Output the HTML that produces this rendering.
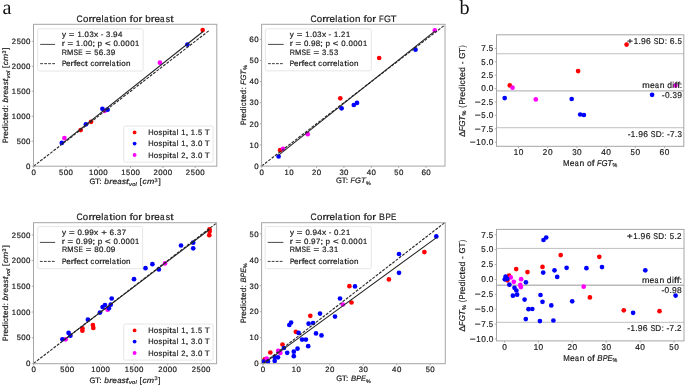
<!DOCTYPE html>
<html><head><meta charset="utf-8"><style>
html,body{margin:0;padding:0;background:#fff;width:685px;height:385px;overflow:hidden}
svg{display:block;will-change:transform}
text{font-family:"Liberation Sans",sans-serif;text-rendering:geometricPrecision}
.serif{font-family:"Liberation Serif",serif}

</style></head><body>
<svg width="685" height="385" viewBox="0 0 685 385">
<rect width="685" height="385" fill="#fff"/>
<text x="2.4" y="14.2" font-size="20.2" class="serif" fill="#111">a</text>
<text x="459.4" y="14.2" font-size="20.2" class="serif" fill="#111">b</text>
<circle cx="80.7" cy="130.1" r="2.35" fill="#ff0000"/>
<circle cx="91.1" cy="121.8" r="2.35" fill="#ff0000"/>
<circle cx="202.7" cy="30.1" r="2.35" fill="#ff0000"/>
<circle cx="64.4" cy="138.1" r="2.35" fill="#ff00ff"/>
<circle cx="104.7" cy="110.8" r="2.35" fill="#ff00ff"/>
<circle cx="159.9" cy="62.7" r="2.35" fill="#ff00ff"/>
<circle cx="61.8" cy="142.9" r="2.35" fill="#0000ff"/>
<circle cx="85.9" cy="124.3" r="2.35" fill="#0000ff"/>
<circle cx="102.4" cy="108.8" r="2.35" fill="#0000ff"/>
<circle cx="107.6" cy="109.7" r="2.35" fill="#0000ff"/>
<circle cx="187.4" cy="44.6" r="2.35" fill="#0000ff"/>
<line x1="33.6" y1="166.2" x2="209.74" y2="30.06" stroke="#2a2a2a" stroke-width="1.15" stroke-dasharray="2.9,1.3"/>
<line x1="61.78" y1="143.96" x2="203.09" y2="31.47" stroke="#222" stroke-width="1.05"/>
<rect x="33.5" y="24.3" width="183.3" height="141.9" rx="0" fill="none" stroke="#a6a6a6" stroke-width="1"/>
<line x1="33.6" y1="166.2" x2="33.6" y2="168" stroke="#a6a6a6" stroke-width="0.9"/>
<g font-size="7.8" fill="#1c1c1c" stroke="#1c1c1c" stroke-width="0.2"><text transform="matrix(1.014 0 0 1 31.4 174.6)">0</text></g>
<line x1="65.92" y1="166.2" x2="65.92" y2="168" stroke="#a6a6a6" stroke-width="0.9"/>
<g font-size="7.8" fill="#1c1c1c" stroke="#1c1c1c" stroke-width="0.2"><text transform="matrix(0.957 0 0 1 59.04 174.6)">5</text><text transform="matrix(1.014 0 0 1 63.72 174.6)">0</text><text transform="matrix(1.014 0 0 1 68.49 174.6)">0</text></g>
<line x1="98.24" y1="166.2" x2="98.24" y2="168" stroke="#a6a6a6" stroke-width="0.9"/>
<g font-size="7.8" fill="#1c1c1c" stroke="#1c1c1c" stroke-width="0.2"><text transform="matrix(0.968 0 0 1 88.95 174.6)">1</text><text transform="matrix(1.014 0 0 1 93.65 174.6)">0</text><text transform="matrix(1.014 0 0 1 98.43 174.6)">0</text><text transform="matrix(1.014 0 0 1 103.2 174.6)">0</text></g>
<line x1="130.56" y1="166.2" x2="130.56" y2="168" stroke="#a6a6a6" stroke-width="0.9"/>
<g font-size="7.8" fill="#1c1c1c" stroke="#1c1c1c" stroke-width="0.2"><text transform="matrix(0.968 0 0 1 121.27 174.6)">1</text><text transform="matrix(0.957 0 0 1 126.07 174.6)">5</text><text transform="matrix(1.014 0 0 1 130.75 174.6)">0</text><text transform="matrix(1.014 0 0 1 135.52 174.6)">0</text></g>
<line x1="162.88" y1="166.2" x2="162.88" y2="168" stroke="#a6a6a6" stroke-width="0.9"/>
<g font-size="7.8" fill="#1c1c1c" stroke="#1c1c1c" stroke-width="0.2"><text transform="matrix(0.977 0 0 1 153.5 174.6)">2</text><text transform="matrix(1.014 0 0 1 158.29 174.6)">0</text><text transform="matrix(1.014 0 0 1 163.07 174.6)">0</text><text transform="matrix(1.014 0 0 1 167.84 174.6)">0</text></g>
<line x1="195.2" y1="166.2" x2="195.2" y2="168" stroke="#a6a6a6" stroke-width="0.9"/>
<g font-size="7.8" fill="#1c1c1c" stroke="#1c1c1c" stroke-width="0.2"><text transform="matrix(0.977 0 0 1 185.82 174.6)">2</text><text transform="matrix(0.957 0 0 1 190.71 174.6)">5</text><text transform="matrix(1.014 0 0 1 195.39 174.6)">0</text><text transform="matrix(1.014 0 0 1 200.16 174.6)">0</text></g>
<line x1="31.7" y1="166.2" x2="33.5" y2="166.2" stroke="#a6a6a6" stroke-width="0.9"/>
<g font-size="7.8" fill="#1c1c1c" stroke="#1c1c1c" stroke-width="0.2"><text transform="matrix(1.014 0 0 1 26.11 169.33)">0</text></g>
<line x1="31.7" y1="141.22" x2="33.5" y2="141.22" stroke="#a6a6a6" stroke-width="0.9"/>
<g font-size="7.8" fill="#1c1c1c" stroke="#1c1c1c" stroke-width="0.2"><text transform="matrix(0.957 0 0 1 16.66 144.35)">5</text><text transform="matrix(1.014 0 0 1 21.34 144.35)">0</text><text transform="matrix(1.014 0 0 1 26.11 144.35)">0</text></g>
<line x1="31.7" y1="116.24" x2="33.5" y2="116.24" stroke="#a6a6a6" stroke-width="0.9"/>
<g font-size="7.8" fill="#1c1c1c" stroke="#1c1c1c" stroke-width="0.2"><text transform="matrix(0.968 0 0 1 11.86 119.37)">1</text><text transform="matrix(1.014 0 0 1 16.57 119.37)">0</text><text transform="matrix(1.014 0 0 1 21.34 119.37)">0</text><text transform="matrix(1.014 0 0 1 26.11 119.37)">0</text></g>
<line x1="31.7" y1="91.26" x2="33.5" y2="91.26" stroke="#a6a6a6" stroke-width="0.9"/>
<g font-size="7.8" fill="#1c1c1c" stroke="#1c1c1c" stroke-width="0.2"><text transform="matrix(0.968 0 0 1 11.86 94.39)">1</text><text transform="matrix(0.957 0 0 1 16.66 94.39)">5</text><text transform="matrix(1.014 0 0 1 21.34 94.39)">0</text><text transform="matrix(1.014 0 0 1 26.11 94.39)">0</text></g>
<line x1="31.7" y1="66.28" x2="33.5" y2="66.28" stroke="#a6a6a6" stroke-width="0.9"/>
<g font-size="7.8" fill="#1c1c1c" stroke="#1c1c1c" stroke-width="0.2"><text transform="matrix(0.977 0 0 1 11.78 69.41)">2</text><text transform="matrix(1.014 0 0 1 16.57 69.41)">0</text><text transform="matrix(1.014 0 0 1 21.34 69.41)">0</text><text transform="matrix(1.014 0 0 1 26.11 69.41)">0</text></g>
<line x1="31.7" y1="41.3" x2="33.5" y2="41.3" stroke="#a6a6a6" stroke-width="0.9"/>
<g font-size="7.8" fill="#1c1c1c" stroke="#1c1c1c" stroke-width="0.2"><text transform="matrix(0.977 0 0 1 11.78 44.43)">2</text><text transform="matrix(0.957 0 0 1 16.66 44.43)">5</text><text transform="matrix(1.014 0 0 1 21.34 44.43)">0</text><text transform="matrix(1.014 0 0 1 26.11 44.43)">0</text></g>
<g font-size="9.46" fill="#1c1c1c" stroke="#1c1c1c" stroke-width="0.2"><text transform="matrix(0.893 0 0 1 76.59 21.7)">C</text><text transform="matrix(1.022 0 0 1 82.96 21.7)">o</text><text transform="matrix(1.232 0 0 1 88.48 21.7)">r</text><text transform="matrix(1.232 0 0 1 92.07 21.7)">r</text><text transform="matrix(1.039 0 0 1 95.64 21.7)">e</text><text transform="matrix(0.983 0 0 1 101.38 21.7)">l</text><text transform="matrix(0.865 0 0 1 103.88 21.7)">a</text><text transform="matrix(1.285 0 0 1 109.32 21.7)">t</text><text transform="matrix(0.983 0 0 1 113.06 21.7)">i</text><text transform="matrix(1.022 0 0 1 115.45 21.7)">o</text><text transform="matrix(1.037 0 0 1 121.1 21.7)">n</text><text transform="matrix(1.263 0 0 1 129.62 21.7)">f</text><text transform="matrix(1.022 0 0 1 132.88 21.7)">o</text><text transform="matrix(1.232 0 0 1 138.41 21.7)">r</text><text transform="matrix(1.046 0 0 1 145.18 21.7)">b</text><text transform="matrix(1.232 0 0 1 150.82 21.7)">r</text><text transform="matrix(1.039 0 0 1 154.39 21.7)">e</text><text transform="matrix(0.865 0 0 1 160.1 21.7)">a</text><text transform="matrix(0.922 0 0 1 165.73 21.7)">s</text><text transform="matrix(1.285 0 0 1 170.28 21.7)">t</text></g>
<rect x="37.7" y="28.8" width="105.4" height="42.2" rx="1.5" fill="#ffffff" stroke="#e0e0e0" stroke-width="0.8"/>
<g font-size="7.8" fill="#1c1c1c" stroke="#1c1c1c" stroke-width="0.2"><text transform="matrix(1.033 0 0 1 61.9 37.4)">y</text><text transform="matrix(1.239 0 0 1 68.85 37.4)">=</text><text transform="matrix(0.968 0 0 1 77.44 37.4)">1</text><text transform="matrix(1.040 0 0 1 82.02 37.4)">.</text><text transform="matrix(1.014 0 0 1 84.53 37.4)">0</text><text transform="matrix(0.973 0 0 1 89.4 37.4)">3</text><text transform="matrix(1.067 0 0 1 94.01 37.4)">x</text><text transform="matrix(1.037 0 0 1 100.72 37.4)">-</text><text transform="matrix(0.973 0 0 1 106.08 37.4)">3</text><text transform="matrix(1.040 0 0 1 110.64 37.4)">.</text><text transform="matrix(1.047 0 0 1 113.05 37.4)">9</text><text transform="matrix(1.014 0 0 1 117.92 37.4)">4</text></g>
<g font-size="7.8" fill="#1c1c1c" stroke="#1c1c1c" stroke-width="0.2"><text transform="matrix(1.232 0 0 1 61.74 46)">r</text><text transform="matrix(1.239 0 0 1 67.49 46)">=</text><text transform="matrix(0.968 0 0 1 76.08 46)">1</text><text transform="matrix(1.040 0 0 1 80.67 46)">.</text><text transform="matrix(1.014 0 0 1 83.18 46)">0</text><text transform="matrix(1.014 0 0 1 87.95 46)">0</text><text transform="matrix(1.350 0 0 1 92.19 46)">;</text><text transform="matrix(1.046 0 0 1 97.6 46)">p</text><text transform="matrix(1.239 0 0 1 104.91 46)">&lt;</text><text transform="matrix(1.014 0 0 1 113.44 46)">0</text><text transform="matrix(1.040 0 0 1 118.09 46)">.</text><text transform="matrix(1.014 0 0 1 120.6 46)">0</text><text transform="matrix(1.014 0 0 1 125.37 46)">0</text><text transform="matrix(1.014 0 0 1 130.14 46)">0</text><text transform="matrix(0.968 0 0 1 134.98 46)">1</text></g>
<g font-size="7.8" fill="#1c1c1c" stroke="#1c1c1c" stroke-width="0.2"><text transform="matrix(0.920 0 0 1 61.85 54.6)">R</text><text transform="matrix(0.959 0 0 1 67.03 54.6)">M</text><text transform="matrix(0.857 0 0 1 73.57 54.6)">S</text><text transform="matrix(0.833 0 0 1 78.35 54.6)">E</text><text transform="matrix(1.239 0 0 1 85.59 54.6)">=</text><text transform="matrix(0.957 0 0 1 94.21 54.6)">5</text><text transform="matrix(1.049 0 0 1 98.81 54.6)">6</text><text transform="matrix(1.040 0 0 1 103.54 54.6)">.</text><text transform="matrix(0.973 0 0 1 106.14 54.6)">3</text><text transform="matrix(1.047 0 0 1 110.72 54.6)">9</text></g>
<line x1="40.2" y1="44.4" x2="55.1" y2="44.4" stroke="#333" stroke-width="0.9"/>
<g font-size="7.8" fill="#1c1c1c" stroke="#1c1c1c" stroke-width="0.2"><text transform="matrix(0.850 0 0 1 61.89 66.4)">P</text><text transform="matrix(1.039 0 0 1 66.03 66.4)">e</text><text transform="matrix(1.232 0 0 1 70.61 66.4)">r</text><text transform="matrix(1.263 0 0 1 73.69 66.4)">f</text><text transform="matrix(1.039 0 0 1 76.36 66.4)">e</text><text transform="matrix(0.965 0 0 1 81 66.4)">c</text><text transform="matrix(1.285 0 0 1 85.08 66.4)">t</text><text transform="matrix(0.965 0 0 1 90.45 66.4)">c</text><text transform="matrix(1.022 0 0 1 94.56 66.4)">o</text><text transform="matrix(1.232 0 0 1 99.11 66.4)">r</text><text transform="matrix(1.232 0 0 1 102.06 66.4)">r</text><text transform="matrix(1.039 0 0 1 105.01 66.4)">e</text><text transform="matrix(0.983 0 0 1 109.74 66.4)">l</text><text transform="matrix(0.865 0 0 1 111.8 66.4)">a</text><text transform="matrix(1.285 0 0 1 116.28 66.4)">t</text><text transform="matrix(0.983 0 0 1 119.37 66.4)">i</text><text transform="matrix(1.022 0 0 1 121.34 66.4)">o</text><text transform="matrix(1.037 0 0 1 125.99 66.4)">n</text></g>
<line x1="40.2" y1="63.65" x2="55.1" y2="63.65" stroke="#333" stroke-width="0.95" stroke-dasharray="2.8,1.2"/>
<rect x="123.7" y="126" width="89.4" height="36.1" rx="1.5" fill="#ffffff" stroke="#e0e0e0" stroke-width="0.8"/>
<circle cx="134.6" cy="132.4" r="1.9" fill="#ff0000"/>
<g font-size="7.8" fill="#1c1c1c" stroke="#1c1c1c" stroke-width="0.2"><text transform="matrix(0.956 0 0 1 148.22 135.1)">H</text><text transform="matrix(1.022 0 0 1 153.82 135.1)">o</text><text transform="matrix(0.922 0 0 1 158.53 135.1)">s</text><text transform="matrix(1.046 0 0 1 162.39 135.1)">p</text><text transform="matrix(0.983 0 0 1 167.19 135.1)">i</text><text transform="matrix(1.285 0 0 1 169.13 135.1)">t</text><text transform="matrix(0.865 0 0 1 172.18 135.1)">a</text><text transform="matrix(0.983 0 0 1 176.81 135.1)">l</text><text transform="matrix(0.968 0 0 1 181.33 135.1)">1</text><text transform="matrix(1.350 0 0 1 185.51 135.1)">,</text><text transform="matrix(0.968 0 0 1 190.87 135.1)">1</text><text transform="matrix(1.040 0 0 1 195.46 135.1)">.</text><text transform="matrix(0.957 0 0 1 198.06 135.1)">5</text><text transform="matrix(1.049 0 0 1 204.73 135.1)">T</text></g>
<circle cx="134.6" cy="143.6" r="1.9" fill="#0000ff"/>
<g font-size="7.8" fill="#1c1c1c" stroke="#1c1c1c" stroke-width="0.2"><text transform="matrix(0.956 0 0 1 148.22 146.3)">H</text><text transform="matrix(1.022 0 0 1 153.82 146.3)">o</text><text transform="matrix(0.922 0 0 1 158.53 146.3)">s</text><text transform="matrix(1.046 0 0 1 162.39 146.3)">p</text><text transform="matrix(0.983 0 0 1 167.19 146.3)">i</text><text transform="matrix(1.285 0 0 1 169.13 146.3)">t</text><text transform="matrix(0.865 0 0 1 172.18 146.3)">a</text><text transform="matrix(0.983 0 0 1 176.81 146.3)">l</text><text transform="matrix(0.968 0 0 1 181.33 146.3)">1</text><text transform="matrix(1.350 0 0 1 185.51 146.3)">,</text><text transform="matrix(0.973 0 0 1 190.91 146.3)">3</text><text transform="matrix(1.040 0 0 1 195.46 146.3)">.</text><text transform="matrix(1.014 0 0 1 197.97 146.3)">0</text><text transform="matrix(1.049 0 0 1 204.73 146.3)">T</text></g>
<circle cx="134.6" cy="155" r="1.9" fill="#ff00ff"/>
<g font-size="7.8" fill="#1c1c1c" stroke="#1c1c1c" stroke-width="0.2"><text transform="matrix(0.956 0 0 1 148.22 157.7)">H</text><text transform="matrix(1.022 0 0 1 153.82 157.7)">o</text><text transform="matrix(0.922 0 0 1 158.53 157.7)">s</text><text transform="matrix(1.046 0 0 1 162.39 157.7)">p</text><text transform="matrix(0.983 0 0 1 167.19 157.7)">i</text><text transform="matrix(1.285 0 0 1 169.13 157.7)">t</text><text transform="matrix(0.865 0 0 1 172.18 157.7)">a</text><text transform="matrix(0.983 0 0 1 176.81 157.7)">l</text><text transform="matrix(0.977 0 0 1 181.25 157.7)">2</text><text transform="matrix(1.350 0 0 1 185.51 157.7)">,</text><text transform="matrix(0.973 0 0 1 190.91 157.7)">3</text><text transform="matrix(1.040 0 0 1 195.46 157.7)">.</text><text transform="matrix(1.014 0 0 1 197.97 157.7)">0</text><text transform="matrix(1.049 0 0 1 204.73 157.7)">T</text></g>
<g><g font-size="7.8" fill="#1c1c1c" stroke="#1c1c1c" stroke-width="0.2"><text transform="matrix(0.971 0 0 1 89.55 184.4)">G</text><text transform="matrix(1.085 0 0 1 95.02 184.4)">T</text><text transform="matrix(1.077 0 0 1 99.27 184.4)">:</text></g><g font-size="7.8" font-style="italic" fill="#1c1c1c" stroke="#1c1c1c" stroke-width="0.2"><text transform="matrix(1.072 0 0 1 104.37 184.4)">b</text><text transform="matrix(1.216 0 0 1 109.25 184.4)">r</text><text transform="matrix(1.076 0 0 1 112.4 184.4)">e</text><text transform="matrix(1.008 0 0 1 117.24 184.4)">a</text><text transform="matrix(1.020 0 0 1 121.92 184.4)">s</text><text transform="matrix(1.337 0 0 1 125.92 184.4)">t</text></g><g font-size="5.46" font-style="italic" fill="#1c1c1c" stroke="#1c1c1c" stroke-width="0.2"><text transform="matrix(1.074 0 0 1 129.01 185.9)">v</text><text transform="matrix(1.053 0 0 1 132.22 185.9)">o</text><text transform="matrix(1.036 0 0 1 135.58 185.9)">l</text></g><g font-size="7.8" fill="#1c1c1c" stroke="#1c1c1c" stroke-width="0.2"><text transform="matrix(1.037 0 0 1 139.55 184.4)">[</text></g><g font-size="7.8" font-style="italic" fill="#1c1c1c" stroke="#1c1c1c" stroke-width="0.2"><text transform="matrix(1.070 0 0 1 142.57 184.4)">c</text><text transform="matrix(1.125 0 0 1 146.89 184.4)">m</text></g><g font-size="5.46" fill="#1c1c1c" stroke="#1c1c1c" stroke-width="0.2"><text transform="matrix(1.007 0 0 1 154.52 181.93)">3</text></g><g font-size="7.8" fill="#1c1c1c" stroke="#1c1c1c" stroke-width="0.2"><text transform="matrix(1.037 0 0 1 158.47 184.4)">]</text></g></g>
<g transform="rotate(-90 8 95.25)"><g font-size="7.8" fill="#1c1c1c" stroke="#1c1c1c" stroke-width="0.2"><text transform="matrix(0.859 0 0 1 -39.68 95.25)">P</text><text transform="matrix(1.244 0 0 1 -35.4 95.25)">r</text><text transform="matrix(1.049 0 0 1 -32.42 95.25)">e</text><text transform="matrix(1.056 0 0 1 -27.76 95.25)">d</text><text transform="matrix(0.993 0 0 1 -22.83 95.25)">i</text><text transform="matrix(0.974 0 0 1 -20.83 95.25)">c</text><text transform="matrix(1.298 0 0 1 -16.71 95.25)">t</text><text transform="matrix(1.049 0 0 1 -13.71 95.25)">e</text><text transform="matrix(1.056 0 0 1 -9.05 95.25)">d</text><text transform="matrix(1.051 0 0 1 -4.18 95.25)">:</text></g><g font-size="7.8" font-style="italic" fill="#1c1c1c" stroke="#1c1c1c" stroke-width="0.2"><text transform="matrix(1.046 0 0 1 0.8 95.25)">b</text><text transform="matrix(1.187 0 0 1 5.56 95.25)">r</text><text transform="matrix(1.050 0 0 1 8.64 95.25)">e</text><text transform="matrix(0.983 0 0 1 13.36 95.25)">a</text><text x="17.93" y="95.25">s</text><text transform="matrix(1.305 0 0 1 21.84 95.25)">t</text></g><g font-size="5.46" font-style="italic" fill="#1c1c1c" stroke="#1c1c1c" stroke-width="0.2"><text transform="matrix(1.048 0 0 1 24.85 96.75)">v</text><text transform="matrix(1.027 0 0 1 27.98 96.75)">o</text><text transform="matrix(1.011 0 0 1 31.26 96.75)">l</text></g><g font-size="7.8" fill="#1c1c1c" stroke="#1c1c1c" stroke-width="0.2"><text transform="matrix(1.012 0 0 1 35.14 95.25)">[</text></g><g font-size="7.8" font-style="italic" fill="#1c1c1c" stroke="#1c1c1c" stroke-width="0.2"><text transform="matrix(1.044 0 0 1 38.08 95.25)">c</text><text transform="matrix(1.098 0 0 1 42.29 95.25)">m</text></g><g font-size="5.46" fill="#1c1c1c" stroke="#1c1c1c" stroke-width="0.2"><text transform="matrix(0.983 0 0 1 49.75 92.78)">3</text></g><g font-size="7.8" fill="#1c1c1c" stroke="#1c1c1c" stroke-width="0.2"><text transform="matrix(1.012 0 0 1 53.6 95.25)">]</text></g></g>
<circle cx="280.1" cy="150.2" r="2.35" fill="#ff0000"/>
<circle cx="340.3" cy="98.3" r="2.35" fill="#ff0000"/>
<circle cx="379.2" cy="58" r="2.35" fill="#ff0000"/>
<circle cx="283" cy="148.8" r="2.35" fill="#ff00ff"/>
<circle cx="307.7" cy="134.2" r="2.35" fill="#ff00ff"/>
<circle cx="434.8" cy="30.4" r="2.35" fill="#ff00ff"/>
<circle cx="278.6" cy="156.5" r="2.35" fill="#0000ff"/>
<circle cx="341.6" cy="108.3" r="2.35" fill="#0000ff"/>
<circle cx="353.8" cy="105" r="2.35" fill="#0000ff"/>
<circle cx="357" cy="102.9" r="2.35" fill="#0000ff"/>
<circle cx="415.5" cy="49.7" r="2.35" fill="#0000ff"/>
<line x1="261.7" y1="166" x2="443.91" y2="25.69" stroke="#2a2a2a" stroke-width="1.15" stroke-dasharray="2.9,1.3"/>
<line x1="278.61" y1="155.14" x2="434.87" y2="31.2" stroke="#222" stroke-width="1.05"/>
<rect x="261.6" y="24.3" width="183.4" height="141.8" rx="0" fill="none" stroke="#a6a6a6" stroke-width="1"/>
<line x1="261.7" y1="166.1" x2="261.7" y2="167.9" stroke="#a6a6a6" stroke-width="0.9"/>
<g font-size="7.8" fill="#1c1c1c" stroke="#1c1c1c" stroke-width="0.2"><text transform="matrix(1.014 0 0 1 259.5 174.6)">0</text></g>
<line x1="289.1" y1="166.1" x2="289.1" y2="167.9" stroke="#a6a6a6" stroke-width="0.9"/>
<g font-size="7.8" fill="#1c1c1c" stroke="#1c1c1c" stroke-width="0.2"><text transform="matrix(0.968 0 0 1 284.58 174.6)">1</text><text transform="matrix(1.014 0 0 1 289.29 174.6)">0</text></g>
<line x1="316.5" y1="166.1" x2="316.5" y2="167.9" stroke="#a6a6a6" stroke-width="0.9"/>
<g font-size="7.8" fill="#1c1c1c" stroke="#1c1c1c" stroke-width="0.2"><text transform="matrix(0.977 0 0 1 311.89 174.6)">2</text><text transform="matrix(1.014 0 0 1 316.69 174.6)">0</text></g>
<line x1="343.9" y1="166.1" x2="343.9" y2="167.9" stroke="#a6a6a6" stroke-width="0.9"/>
<g font-size="7.8" fill="#1c1c1c" stroke="#1c1c1c" stroke-width="0.2"><text transform="matrix(0.973 0 0 1 339.41 174.6)">3</text><text transform="matrix(1.014 0 0 1 344.09 174.6)">0</text></g>
<line x1="371.3" y1="166.1" x2="371.3" y2="167.9" stroke="#a6a6a6" stroke-width="0.9"/>
<g font-size="7.8" fill="#1c1c1c" stroke="#1c1c1c" stroke-width="0.2"><text transform="matrix(1.014 0 0 1 366.71 174.6)">4</text><text transform="matrix(1.014 0 0 1 371.49 174.6)">0</text></g>
<line x1="398.7" y1="166.1" x2="398.7" y2="167.9" stroke="#a6a6a6" stroke-width="0.9"/>
<g font-size="7.8" fill="#1c1c1c" stroke="#1c1c1c" stroke-width="0.2"><text transform="matrix(0.957 0 0 1 394.21 174.6)">5</text><text transform="matrix(1.014 0 0 1 398.89 174.6)">0</text></g>
<line x1="426.1" y1="166.1" x2="426.1" y2="167.9" stroke="#a6a6a6" stroke-width="0.9"/>
<g font-size="7.8" fill="#1c1c1c" stroke="#1c1c1c" stroke-width="0.2"><text transform="matrix(1.049 0 0 1 421.44 174.6)">6</text><text transform="matrix(1.014 0 0 1 426.29 174.6)">0</text></g>
<line x1="259.8" y1="166" x2="261.6" y2="166" stroke="#a6a6a6" stroke-width="0.9"/>
<g font-size="7.8" fill="#1c1c1c" stroke="#1c1c1c" stroke-width="0.2"><text transform="matrix(1.014 0 0 1 254.21 168.73)">0</text></g>
<line x1="259.8" y1="144.9" x2="261.6" y2="144.9" stroke="#a6a6a6" stroke-width="0.9"/>
<g font-size="7.8" fill="#1c1c1c" stroke="#1c1c1c" stroke-width="0.2"><text transform="matrix(0.968 0 0 1 249.51 147.63)">1</text><text transform="matrix(1.014 0 0 1 254.21 147.63)">0</text></g>
<line x1="259.8" y1="123.8" x2="261.6" y2="123.8" stroke="#a6a6a6" stroke-width="0.9"/>
<g font-size="7.8" fill="#1c1c1c" stroke="#1c1c1c" stroke-width="0.2"><text transform="matrix(0.977 0 0 1 249.42 126.53)">2</text><text transform="matrix(1.014 0 0 1 254.21 126.53)">0</text></g>
<line x1="259.8" y1="102.7" x2="261.6" y2="102.7" stroke="#a6a6a6" stroke-width="0.9"/>
<g font-size="7.8" fill="#1c1c1c" stroke="#1c1c1c" stroke-width="0.2"><text transform="matrix(0.973 0 0 1 249.54 105.43)">3</text><text transform="matrix(1.014 0 0 1 254.21 105.43)">0</text></g>
<line x1="259.8" y1="81.6" x2="261.6" y2="81.6" stroke="#a6a6a6" stroke-width="0.9"/>
<g font-size="7.8" fill="#1c1c1c" stroke="#1c1c1c" stroke-width="0.2"><text transform="matrix(1.014 0 0 1 249.44 84.33)">4</text><text transform="matrix(1.014 0 0 1 254.21 84.33)">0</text></g>
<line x1="259.8" y1="60.5" x2="261.6" y2="60.5" stroke="#a6a6a6" stroke-width="0.9"/>
<g font-size="7.8" fill="#1c1c1c" stroke="#1c1c1c" stroke-width="0.2"><text transform="matrix(0.957 0 0 1 249.54 63.23)">5</text><text transform="matrix(1.014 0 0 1 254.21 63.23)">0</text></g>
<line x1="259.8" y1="39.4" x2="261.6" y2="39.4" stroke="#a6a6a6" stroke-width="0.9"/>
<g font-size="7.8" fill="#1c1c1c" stroke="#1c1c1c" stroke-width="0.2"><text transform="matrix(1.049 0 0 1 249.36 42.13)">6</text><text transform="matrix(1.014 0 0 1 254.21 42.13)">0</text></g>
<g font-size="9.46" fill="#1c1c1c" stroke="#1c1c1c" stroke-width="0.2"><text transform="matrix(0.893 0 0 1 310.38 21.7)">C</text><text transform="matrix(1.022 0 0 1 316.75 21.7)">o</text><text transform="matrix(1.232 0 0 1 322.28 21.7)">r</text><text transform="matrix(1.232 0 0 1 325.86 21.7)">r</text><text transform="matrix(1.039 0 0 1 329.43 21.7)">e</text><text transform="matrix(0.983 0 0 1 335.18 21.7)">l</text><text transform="matrix(0.865 0 0 1 337.67 21.7)">a</text><text transform="matrix(1.285 0 0 1 343.11 21.7)">t</text><text transform="matrix(0.983 0 0 1 346.85 21.7)">i</text><text transform="matrix(1.022 0 0 1 349.24 21.7)">o</text><text transform="matrix(1.037 0 0 1 354.89 21.7)">n</text><text transform="matrix(1.263 0 0 1 363.41 21.7)">f</text><text transform="matrix(1.022 0 0 1 366.67 21.7)">o</text><text transform="matrix(1.232 0 0 1 372.2 21.7)">r</text><text transform="matrix(0.824 0 0 1 379.03 21.7)">F</text><text transform="matrix(0.938 0 0 1 384.08 21.7)">G</text><text transform="matrix(1.049 0 0 1 390.49 21.7)">T</text></g>
<rect x="265.4" y="28.8" width="105.9" height="42" rx="1.5" fill="#ffffff" stroke="#e0e0e0" stroke-width="0.8"/>
<g font-size="7.8" fill="#1c1c1c" stroke="#1c1c1c" stroke-width="0.2"><text transform="matrix(1.033 0 0 1 289.8 37.4)">y</text><text transform="matrix(1.239 0 0 1 296.75 37.4)">=</text><text transform="matrix(0.968 0 0 1 305.34 37.4)">1</text><text transform="matrix(1.040 0 0 1 309.92 37.4)">.</text><text transform="matrix(1.014 0 0 1 312.43 37.4)">0</text><text transform="matrix(0.973 0 0 1 317.3 37.4)">3</text><text transform="matrix(1.067 0 0 1 321.91 37.4)">x</text><text transform="matrix(1.037 0 0 1 328.62 37.4)">-</text><text transform="matrix(0.968 0 0 1 333.95 37.4)">1</text><text transform="matrix(1.040 0 0 1 338.54 37.4)">.</text><text transform="matrix(0.977 0 0 1 341.02 37.4)">2</text><text transform="matrix(0.968 0 0 1 345.88 37.4)">1</text></g>
<g font-size="7.8" fill="#1c1c1c" stroke="#1c1c1c" stroke-width="0.2"><text transform="matrix(1.232 0 0 1 289.64 46)">r</text><text transform="matrix(1.239 0 0 1 295.39 46)">=</text><text transform="matrix(1.014 0 0 1 303.92 46)">0</text><text transform="matrix(1.040 0 0 1 308.57 46)">.</text><text transform="matrix(1.047 0 0 1 310.98 46)">9</text><text transform="matrix(1.025 0 0 1 315.82 46)">8</text><text transform="matrix(1.350 0 0 1 320.09 46)">;</text><text transform="matrix(1.046 0 0 1 325.5 46)">p</text><text transform="matrix(1.239 0 0 1 332.81 46)">&lt;</text><text transform="matrix(1.014 0 0 1 341.34 46)">0</text><text transform="matrix(1.040 0 0 1 345.99 46)">.</text><text transform="matrix(1.014 0 0 1 348.5 46)">0</text><text transform="matrix(1.014 0 0 1 353.27 46)">0</text><text transform="matrix(1.014 0 0 1 358.04 46)">0</text><text transform="matrix(0.968 0 0 1 362.88 46)">1</text></g>
<g font-size="7.8" fill="#1c1c1c" stroke="#1c1c1c" stroke-width="0.2"><text transform="matrix(0.920 0 0 1 289.75 54.6)">R</text><text transform="matrix(0.959 0 0 1 294.93 54.6)">M</text><text transform="matrix(0.857 0 0 1 301.47 54.6)">S</text><text transform="matrix(0.833 0 0 1 306.25 54.6)">E</text><text transform="matrix(1.239 0 0 1 313.49 54.6)">=</text><text transform="matrix(0.973 0 0 1 322.12 54.6)">3</text><text transform="matrix(1.040 0 0 1 326.67 54.6)">.</text><text transform="matrix(0.957 0 0 1 329.27 54.6)">5</text><text transform="matrix(0.973 0 0 1 334.04 54.6)">3</text></g>
<line x1="268" y1="44.4" x2="283.7" y2="44.4" stroke="#333" stroke-width="0.9"/>
<g font-size="7.8" fill="#1c1c1c" stroke="#1c1c1c" stroke-width="0.2"><text transform="matrix(0.850 0 0 1 289.79 66.4)">P</text><text transform="matrix(1.039 0 0 1 293.93 66.4)">e</text><text transform="matrix(1.232 0 0 1 298.51 66.4)">r</text><text transform="matrix(1.263 0 0 1 301.59 66.4)">f</text><text transform="matrix(1.039 0 0 1 304.26 66.4)">e</text><text transform="matrix(0.965 0 0 1 308.9 66.4)">c</text><text transform="matrix(1.285 0 0 1 312.98 66.4)">t</text><text transform="matrix(0.965 0 0 1 318.35 66.4)">c</text><text transform="matrix(1.022 0 0 1 322.46 66.4)">o</text><text transform="matrix(1.232 0 0 1 327.01 66.4)">r</text><text transform="matrix(1.232 0 0 1 329.96 66.4)">r</text><text transform="matrix(1.039 0 0 1 332.91 66.4)">e</text><text transform="matrix(0.983 0 0 1 337.64 66.4)">l</text><text transform="matrix(0.865 0 0 1 339.7 66.4)">a</text><text transform="matrix(1.285 0 0 1 344.18 66.4)">t</text><text transform="matrix(0.983 0 0 1 347.27 66.4)">i</text><text transform="matrix(1.022 0 0 1 349.24 66.4)">o</text><text transform="matrix(1.037 0 0 1 353.89 66.4)">n</text></g>
<line x1="268" y1="63.65" x2="283.7" y2="63.65" stroke="#333" stroke-width="0.95" stroke-dasharray="2.8,1.2"/>
<g><g font-size="7.8" fill="#1c1c1c" stroke="#1c1c1c" stroke-width="0.2"><text transform="matrix(0.971 0 0 1 335.96 183.4)">G</text><text transform="matrix(1.085 0 0 1 341.43 183.4)">T</text><text transform="matrix(1.077 0 0 1 345.67 183.4)">:</text></g><g font-size="7.8" font-style="italic" fill="#1c1c1c" stroke="#1c1c1c" stroke-width="0.2"><text transform="matrix(0.889 0 0 1 350.61 183.4)">F</text><text transform="matrix(0.987 0 0 1 355.04 183.4)">G</text><text transform="matrix(1.086 0 0 1 360.66 183.4)">T</text></g><g font-size="5.15" fill="#1c1c1c" stroke="#1c1c1c" stroke-width="0.2"><text transform="matrix(1.022 0 0 1 365.93 184.68)">%</text></g></g>
<g transform="rotate(-90 245.5 95.2)"><g font-size="7.8" fill="#1c1c1c" stroke="#1c1c1c" stroke-width="0.2"><text transform="matrix(0.859 0 0 1 215.63 95.2)">P</text><text transform="matrix(1.244 0 0 1 219.92 95.2)">r</text><text transform="matrix(1.049 0 0 1 222.89 95.2)">e</text><text transform="matrix(1.056 0 0 1 227.55 95.2)">d</text><text transform="matrix(0.993 0 0 1 232.49 95.2)">i</text><text transform="matrix(0.974 0 0 1 234.49 95.2)">c</text><text transform="matrix(1.298 0 0 1 238.61 95.2)">t</text><text transform="matrix(1.049 0 0 1 241.6 95.2)">e</text><text transform="matrix(1.056 0 0 1 246.26 95.2)">d</text><text transform="matrix(1.051 0 0 1 251.14 95.2)">:</text></g><g font-size="7.8" font-style="italic" fill="#1c1c1c" stroke="#1c1c1c" stroke-width="0.2"><text transform="matrix(0.868 0 0 1 255.95 95.2)">F</text><text transform="matrix(0.964 0 0 1 260.28 95.2)">G</text><text transform="matrix(1.059 0 0 1 265.77 95.2)">T</text></g><g font-size="5.15" fill="#1c1c1c" stroke="#1c1c1c" stroke-width="0.2"><text x="270.9" y="96.48">%</text></g></g>
<line x1="496.5" y1="53.76" x2="683.8" y2="53.76" stroke="#8a8a8a" stroke-width="1" stroke-dasharray="1.1,0.9"/>
<line x1="496.5" y1="127.73" x2="683.8" y2="127.73" stroke="#8a8a8a" stroke-width="1" stroke-dasharray="1.1,0.9"/>
<line x1="496.5" y1="90.85" x2="683.8" y2="90.85" stroke="#bababa" stroke-width="1.4"/>
<circle cx="509.8" cy="85.4" r="2.35" fill="#ff0000"/>
<circle cx="578.1" cy="71.1" r="2.35" fill="#ff0000"/>
<circle cx="626.6" cy="44.6" r="2.35" fill="#ff0000"/>
<circle cx="512.5" cy="87.7" r="2.35" fill="#ff00ff"/>
<circle cx="535.8" cy="99.4" r="2.35" fill="#ff00ff"/>
<circle cx="675.4" cy="85.5" r="2.35" fill="#ff00ff"/>
<circle cx="504.7" cy="98.1" r="2.35" fill="#0000ff"/>
<circle cx="571.7" cy="99" r="2.35" fill="#0000ff"/>
<circle cx="580.2" cy="114.5" r="2.35" fill="#0000ff"/>
<circle cx="583.9" cy="115" r="2.35" fill="#0000ff"/>
<circle cx="652.1" cy="94.8" r="2.35" fill="#0000ff"/>
<rect x="496.5" y="34.8" width="187.3" height="111.5" rx="0" fill="none" stroke="#a6a6a6" stroke-width="1"/>
<line x1="518.5" y1="146.3" x2="518.5" y2="148.1" stroke="#a6a6a6" stroke-width="0.9"/>
<g font-size="8.53" fill="#1c1c1c" stroke="#1c1c1c" stroke-width="0.2"><text transform="matrix(0.932 0 0 1 513.74 155.4)">1</text><text transform="matrix(0.976 0 0 1 518.7 155.4)">0</text></g>
<line x1="547.7" y1="146.3" x2="547.7" y2="148.1" stroke="#a6a6a6" stroke-width="0.9"/>
<g font-size="8.53" fill="#1c1c1c" stroke="#1c1c1c" stroke-width="0.2"><text transform="matrix(0.941 0 0 1 542.85 155.4)">2</text><text transform="matrix(0.976 0 0 1 547.9 155.4)">0</text></g>
<line x1="576.9" y1="146.3" x2="576.9" y2="148.1" stroke="#a6a6a6" stroke-width="0.9"/>
<g font-size="8.53" fill="#1c1c1c" stroke="#1c1c1c" stroke-width="0.2"><text transform="matrix(0.937 0 0 1 572.17 155.4)">3</text><text transform="matrix(0.976 0 0 1 577.1 155.4)">0</text></g>
<line x1="606.1" y1="146.3" x2="606.1" y2="148.1" stroke="#a6a6a6" stroke-width="0.9"/>
<g font-size="8.53" fill="#1c1c1c" stroke="#1c1c1c" stroke-width="0.2"><text transform="matrix(0.976 0 0 1 601.27 155.4)">4</text><text transform="matrix(0.976 0 0 1 606.3 155.4)">0</text></g>
<line x1="635.3" y1="146.3" x2="635.3" y2="148.1" stroke="#a6a6a6" stroke-width="0.9"/>
<g font-size="8.53" fill="#1c1c1c" stroke="#1c1c1c" stroke-width="0.2"><text transform="matrix(0.921 0 0 1 630.57 155.4)">5</text><text transform="matrix(0.976 0 0 1 635.5 155.4)">0</text></g>
<line x1="664.5" y1="146.3" x2="664.5" y2="148.1" stroke="#a6a6a6" stroke-width="0.9"/>
<g font-size="8.53" fill="#1c1c1c" stroke="#1c1c1c" stroke-width="0.2"><text transform="matrix(1.010 0 0 1 659.59 155.4)">6</text><text transform="matrix(0.976 0 0 1 664.7 155.4)">0</text></g>
<line x1="494.7" y1="142.2" x2="496.5" y2="142.2" stroke="#a6a6a6" stroke-width="0.9"/>
<g font-size="8.53" fill="#1c1c1c" stroke="#1c1c1c" stroke-width="0.2"><text transform="matrix(1.193 0 0 1 469.73 145.08)">−</text><text transform="matrix(0.932 0 0 1 476.27 145.08)">1</text><text transform="matrix(0.976 0 0 1 481.23 145.08)">0</text><text x="486.13" y="145.08">.</text><text transform="matrix(0.976 0 0 1 488.77 145.08)">0</text></g>
<line x1="494.7" y1="128.8" x2="496.5" y2="128.8" stroke="#a6a6a6" stroke-width="0.9"/>
<g font-size="8.53" fill="#1c1c1c" stroke="#1c1c1c" stroke-width="0.2"><text transform="matrix(1.193 0 0 1 474.75 131.68)">−</text><text transform="matrix(0.955 0 0 1 481.27 131.68)">7</text><text x="486.13" y="131.68">.</text><text transform="matrix(0.921 0 0 1 488.87 131.68)">5</text></g>
<line x1="494.7" y1="115.4" x2="496.5" y2="115.4" stroke="#a6a6a6" stroke-width="0.9"/>
<g font-size="8.53" fill="#1c1c1c" stroke="#1c1c1c" stroke-width="0.2"><text transform="matrix(1.193 0 0 1 474.75 118.28)">−</text><text transform="matrix(0.921 0 0 1 481.33 118.28)">5</text><text x="486.13" y="118.28">.</text><text transform="matrix(0.976 0 0 1 488.77 118.28)">0</text></g>
<line x1="494.7" y1="102" x2="496.5" y2="102" stroke="#a6a6a6" stroke-width="0.9"/>
<g font-size="8.53" fill="#1c1c1c" stroke="#1c1c1c" stroke-width="0.2"><text transform="matrix(1.193 0 0 1 474.75 104.88)">−</text><text transform="matrix(0.941 0 0 1 481.21 104.88)">2</text><text x="486.13" y="104.88">.</text><text transform="matrix(0.921 0 0 1 488.87 104.88)">5</text></g>
<line x1="494.7" y1="88.6" x2="496.5" y2="88.6" stroke="#a6a6a6" stroke-width="0.9"/>
<g font-size="8.53" fill="#1c1c1c" stroke="#1c1c1c" stroke-width="0.2"><text transform="matrix(0.976 0 0 1 481.23 91.48)">0</text><text x="486.13" y="91.48">.</text><text transform="matrix(0.976 0 0 1 488.77 91.48)">0</text></g>
<line x1="494.7" y1="75.2" x2="496.5" y2="75.2" stroke="#a6a6a6" stroke-width="0.9"/>
<g font-size="8.53" fill="#1c1c1c" stroke="#1c1c1c" stroke-width="0.2"><text transform="matrix(0.941 0 0 1 481.21 78.08)">2</text><text x="486.13" y="78.08">.</text><text transform="matrix(0.921 0 0 1 488.87 78.08)">5</text></g>
<line x1="494.7" y1="61.8" x2="496.5" y2="61.8" stroke="#a6a6a6" stroke-width="0.9"/>
<g font-size="8.53" fill="#1c1c1c" stroke="#1c1c1c" stroke-width="0.2"><text transform="matrix(0.921 0 0 1 481.33 64.68)">5</text><text x="486.13" y="64.68">.</text><text transform="matrix(0.976 0 0 1 488.77 64.68)">0</text></g>
<line x1="494.7" y1="48.4" x2="496.5" y2="48.4" stroke="#a6a6a6" stroke-width="0.9"/>
<g font-size="8.53" fill="#1c1c1c" stroke="#1c1c1c" stroke-width="0.2"><text transform="matrix(0.955 0 0 1 481.27 51.28)">7</text><text x="486.13" y="51.28">.</text><text transform="matrix(0.921 0 0 1 488.87 51.28)">5</text></g>
<g font-size="8.53" fill="#1c1c1c" stroke="#1c1c1c" stroke-width="0.2"><text transform="matrix(1.193 0 0 1 627.09 44.1)">+</text><text transform="matrix(0.932 0 0 1 633.63 44.1)">1</text><text x="638.46" y="44.1">.</text><text transform="matrix(1.008 0 0 1 641 44.1)">9</text><text transform="matrix(1.010 0 0 1 646.04 44.1)">6</text><text transform="matrix(0.825 0 0 1 653.67 44.1)">S</text><text transform="matrix(0.958 0 0 1 658.59 44.1)">D</text><text x="664.71" y="44.1">:</text><text transform="matrix(1.010 0 0 1 669.85 44.1)">6</text><text x="674.83" y="44.1">.</text><text transform="matrix(0.921 0 0 1 677.57 44.1)">5</text></g>
<g font-size="8.53" fill="#1c1c1c" stroke="#1c1c1c" stroke-width="0.2"><text transform="matrix(1.055 0 0 1 642.35 88.2)">m</text><text x="650" y="88.2">e</text><text transform="matrix(0.833 0 0 1 654.96 88.2)">a</text><text x="659.78" y="88.2">n</text><text transform="matrix(1.006 0 0 1 667.22 88.2)">d</text><text transform="matrix(0.947 0 0 1 672.37 88.2)">i</text><text transform="matrix(1.216 0 0 1 674.39 88.2)">f</text><text transform="matrix(1.216 0 0 1 677.17 88.2)">f</text><text x="679.78" y="88.2">:</text></g>
<g font-size="8.53" fill="#1c1c1c" stroke="#1c1c1c" stroke-width="0.2"><text x="661.87" y="98">-</text><text transform="matrix(0.976 0 0 1 664.91 98)">0</text><text x="669.8" y="98">.</text><text transform="matrix(0.937 0 0 1 672.54 98)">3</text><text transform="matrix(1.008 0 0 1 677.37 98)">9</text></g>
<g font-size="8.53" fill="#1c1c1c" stroke="#1c1c1c" stroke-width="0.2"><text x="627.67" y="136.8">-</text><text transform="matrix(0.932 0 0 1 630.78 136.8)">1</text><text x="635.6" y="136.8">.</text><text transform="matrix(1.008 0 0 1 638.15 136.8)">9</text><text transform="matrix(1.010 0 0 1 643.19 136.8)">6</text><text transform="matrix(0.825 0 0 1 650.82 136.8)">S</text><text transform="matrix(0.958 0 0 1 655.73 136.8)">D</text><text x="661.86" y="136.8">:</text><text x="666.89" y="136.8">-</text><text transform="matrix(0.955 0 0 1 669.97 136.8)">7</text><text x="674.83" y="136.8">.</text><text transform="matrix(0.937 0 0 1 677.57 136.8)">3</text></g>
<g><g font-size="8.53" fill="#1c1c1c" stroke="#1c1c1c" stroke-width="0.2"><text transform="matrix(0.923 0 0 1 562.98 165.7)">M</text><text x="569.74" y="165.7">e</text><text transform="matrix(0.833 0 0 1 574.7 165.7)">a</text><text x="579.52" y="165.7">n</text><text transform="matrix(0.984 0 0 1 586.97 165.7)">o</text><text transform="matrix(1.216 0 0 1 591.75 165.7)">f</text></g><g font-size="8.53" font-style="italic" fill="#1c1c1c" stroke="#1c1c1c" stroke-width="0.2"><text transform="matrix(0.827 0 0 1 597 165.7)">F</text><text transform="matrix(0.919 0 0 1 601.52 165.7)">G</text><text transform="matrix(1.010 0 0 1 607.24 165.7)">T</text></g><g font-size="5.63" fill="#1c1c1c" stroke="#1c1c1c" stroke-width="0.2"><text transform="matrix(0.951 0 0 1 612.6 167.04)">%</text></g></g>
<g transform="rotate(-90 464.7 90.85)"><g font-size="8.53" fill="#1c1c1c" stroke="#1c1c1c" stroke-width="0.2"><text transform="matrix(1.038 0 0 1 418.52 90.85)">Δ</text></g><g font-size="8.53" font-style="italic" fill="#1c1c1c" stroke="#1c1c1c" stroke-width="0.2"><text transform="matrix(0.844 0 0 1 424.23 90.85)">F</text><text transform="matrix(0.937 0 0 1 428.84 90.85)">G</text><text transform="matrix(1.030 0 0 1 434.67 90.85)">T</text></g><g font-size="5.63" fill="#1c1c1c" stroke="#1c1c1c" stroke-width="0.2"><text transform="matrix(0.970 0 0 1 440.14 92.19)">%</text></g><g font-size="8.53" fill="#1c1c1c" stroke="#1c1c1c" stroke-width="0.2"><text transform="matrix(0.800 0 0 1 447.92 90.85)">(</text><text transform="matrix(0.835 0 0 1 451 90.85)">P</text><text transform="matrix(1.210 0 0 1 455.56 90.85)">r</text><text transform="matrix(1.020 0 0 1 458.72 90.85)">e</text><text transform="matrix(1.026 0 0 1 463.68 90.85)">d</text><text transform="matrix(0.965 0 0 1 468.93 90.85)">i</text><text transform="matrix(0.948 0 0 1 471.06 90.85)">c</text><text transform="matrix(1.262 0 0 1 475.44 90.85)">t</text><text transform="matrix(1.020 0 0 1 478.63 90.85)">e</text><text transform="matrix(1.026 0 0 1 483.58 90.85)">d</text><text transform="matrix(1.018 0 0 1 491.19 90.85)">-</text><text transform="matrix(0.921 0 0 1 496.71 90.85)">G</text><text transform="matrix(1.030 0 0 1 502.39 90.85)">T</text><text transform="matrix(0.800 0 0 1 508.14 90.85)">)</text></g></g>
<circle cx="82.4" cy="328.3" r="2.35" fill="#ff0000"/>
<circle cx="82.4" cy="330.7" r="2.35" fill="#ff0000"/>
<circle cx="92.9" cy="325" r="2.35" fill="#ff0000"/>
<circle cx="93.3" cy="327.9" r="2.35" fill="#ff0000"/>
<circle cx="209.5" cy="229.3" r="2.35" fill="#ff0000"/>
<circle cx="209.6" cy="231.5" r="2.35" fill="#ff0000"/>
<circle cx="209.3" cy="235.2" r="2.35" fill="#ff0000"/>
<circle cx="65.7" cy="339.3" r="2.35" fill="#ff00ff"/>
<circle cx="107.6" cy="309.7" r="2.35" fill="#ff00ff"/>
<circle cx="165" cy="263.4" r="2.35" fill="#ff00ff"/>
<circle cx="62.4" cy="339.3" r="2.35" fill="#0000ff"/>
<circle cx="68.6" cy="332.9" r="2.35" fill="#0000ff"/>
<circle cx="70.4" cy="335.7" r="2.35" fill="#0000ff"/>
<circle cx="87.9" cy="319.7" r="2.35" fill="#0000ff"/>
<circle cx="100" cy="312.6" r="2.35" fill="#0000ff"/>
<circle cx="102.6" cy="307.1" r="2.35" fill="#0000ff"/>
<circle cx="105" cy="305" r="2.35" fill="#0000ff"/>
<circle cx="108.9" cy="308.3" r="2.35" fill="#0000ff"/>
<circle cx="110.7" cy="304.7" r="2.35" fill="#0000ff"/>
<circle cx="111.7" cy="298.5" r="2.35" fill="#0000ff"/>
<circle cx="134" cy="279.2" r="2.35" fill="#0000ff"/>
<circle cx="145.5" cy="268.2" r="2.35" fill="#0000ff"/>
<circle cx="152.4" cy="264.2" r="2.35" fill="#0000ff"/>
<circle cx="158.8" cy="269.4" r="2.35" fill="#0000ff"/>
<circle cx="181" cy="245.5" r="2.35" fill="#0000ff"/>
<circle cx="193.2" cy="242.7" r="2.35" fill="#0000ff"/>
<circle cx="193.2" cy="248.3" r="2.35" fill="#0000ff"/>
<line x1="33.6" y1="363.4" x2="215.84" y2="223.59" stroke="#2a2a2a" stroke-width="1.15" stroke-dasharray="2.9,1.3"/>
<line x1="62.41" y1="341.19" x2="209.47" y2="229.5" stroke="#222" stroke-width="1.05"/>
<rect x="33.5" y="222.7" width="183.1" height="141" rx="0" fill="none" stroke="#a6a6a6" stroke-width="1"/>
<line x1="33.6" y1="363.7" x2="33.6" y2="365.5" stroke="#a6a6a6" stroke-width="0.9"/>
<g font-size="7.8" fill="#1c1c1c" stroke="#1c1c1c" stroke-width="0.2"><text transform="matrix(1.014 0 0 1 31.4 372.2)">0</text></g>
<line x1="67.1" y1="363.7" x2="67.1" y2="365.5" stroke="#a6a6a6" stroke-width="0.9"/>
<g font-size="7.8" fill="#1c1c1c" stroke="#1c1c1c" stroke-width="0.2"><text transform="matrix(0.957 0 0 1 60.22 372.2)">5</text><text transform="matrix(1.014 0 0 1 64.9 372.2)">0</text><text transform="matrix(1.014 0 0 1 69.67 372.2)">0</text></g>
<line x1="100.6" y1="363.7" x2="100.6" y2="365.5" stroke="#a6a6a6" stroke-width="0.9"/>
<g font-size="7.8" fill="#1c1c1c" stroke="#1c1c1c" stroke-width="0.2"><text transform="matrix(0.968 0 0 1 91.31 372.2)">1</text><text transform="matrix(1.014 0 0 1 96.01 372.2)">0</text><text transform="matrix(1.014 0 0 1 100.79 372.2)">0</text><text transform="matrix(1.014 0 0 1 105.56 372.2)">0</text></g>
<line x1="134.1" y1="363.7" x2="134.1" y2="365.5" stroke="#a6a6a6" stroke-width="0.9"/>
<g font-size="7.8" fill="#1c1c1c" stroke="#1c1c1c" stroke-width="0.2"><text transform="matrix(0.968 0 0 1 124.81 372.2)">1</text><text transform="matrix(0.957 0 0 1 129.61 372.2)">5</text><text transform="matrix(1.014 0 0 1 134.29 372.2)">0</text><text transform="matrix(1.014 0 0 1 139.06 372.2)">0</text></g>
<line x1="167.6" y1="363.7" x2="167.6" y2="365.5" stroke="#a6a6a6" stroke-width="0.9"/>
<g font-size="7.8" fill="#1c1c1c" stroke="#1c1c1c" stroke-width="0.2"><text transform="matrix(0.977 0 0 1 158.22 372.2)">2</text><text transform="matrix(1.014 0 0 1 163.01 372.2)">0</text><text transform="matrix(1.014 0 0 1 167.79 372.2)">0</text><text transform="matrix(1.014 0 0 1 172.56 372.2)">0</text></g>
<line x1="201.1" y1="363.7" x2="201.1" y2="365.5" stroke="#a6a6a6" stroke-width="0.9"/>
<g font-size="7.8" fill="#1c1c1c" stroke="#1c1c1c" stroke-width="0.2"><text transform="matrix(0.977 0 0 1 191.72 372.2)">2</text><text transform="matrix(0.957 0 0 1 196.61 372.2)">5</text><text transform="matrix(1.014 0 0 1 201.29 372.2)">0</text><text transform="matrix(1.014 0 0 1 206.06 372.2)">0</text></g>
<line x1="31.7" y1="363.4" x2="33.5" y2="363.4" stroke="#a6a6a6" stroke-width="0.9"/>
<g font-size="7.8" fill="#1c1c1c" stroke="#1c1c1c" stroke-width="0.2"><text transform="matrix(1.014 0 0 1 26.11 366.13)">0</text></g>
<line x1="31.7" y1="337.7" x2="33.5" y2="337.7" stroke="#a6a6a6" stroke-width="0.9"/>
<g font-size="7.8" fill="#1c1c1c" stroke="#1c1c1c" stroke-width="0.2"><text transform="matrix(0.957 0 0 1 16.66 340.43)">5</text><text transform="matrix(1.014 0 0 1 21.34 340.43)">0</text><text transform="matrix(1.014 0 0 1 26.11 340.43)">0</text></g>
<line x1="31.7" y1="312" x2="33.5" y2="312" stroke="#a6a6a6" stroke-width="0.9"/>
<g font-size="7.8" fill="#1c1c1c" stroke="#1c1c1c" stroke-width="0.2"><text transform="matrix(0.968 0 0 1 11.86 314.73)">1</text><text transform="matrix(1.014 0 0 1 16.57 314.73)">0</text><text transform="matrix(1.014 0 0 1 21.34 314.73)">0</text><text transform="matrix(1.014 0 0 1 26.11 314.73)">0</text></g>
<line x1="31.7" y1="286.3" x2="33.5" y2="286.3" stroke="#a6a6a6" stroke-width="0.9"/>
<g font-size="7.8" fill="#1c1c1c" stroke="#1c1c1c" stroke-width="0.2"><text transform="matrix(0.968 0 0 1 11.86 289.03)">1</text><text transform="matrix(0.957 0 0 1 16.66 289.03)">5</text><text transform="matrix(1.014 0 0 1 21.34 289.03)">0</text><text transform="matrix(1.014 0 0 1 26.11 289.03)">0</text></g>
<line x1="31.7" y1="260.6" x2="33.5" y2="260.6" stroke="#a6a6a6" stroke-width="0.9"/>
<g font-size="7.8" fill="#1c1c1c" stroke="#1c1c1c" stroke-width="0.2"><text transform="matrix(0.977 0 0 1 11.78 263.33)">2</text><text transform="matrix(1.014 0 0 1 16.57 263.33)">0</text><text transform="matrix(1.014 0 0 1 21.34 263.33)">0</text><text transform="matrix(1.014 0 0 1 26.11 263.33)">0</text></g>
<line x1="31.7" y1="234.9" x2="33.5" y2="234.9" stroke="#a6a6a6" stroke-width="0.9"/>
<g font-size="7.8" fill="#1c1c1c" stroke="#1c1c1c" stroke-width="0.2"><text transform="matrix(0.977 0 0 1 11.78 237.63)">2</text><text transform="matrix(0.957 0 0 1 16.66 237.63)">5</text><text transform="matrix(1.014 0 0 1 21.34 237.63)">0</text><text transform="matrix(1.014 0 0 1 26.11 237.63)">0</text></g>
<g font-size="9.46" fill="#1c1c1c" stroke="#1c1c1c" stroke-width="0.2"><text transform="matrix(0.893 0 0 1 76.49 220.1)">C</text><text transform="matrix(1.022 0 0 1 82.86 220.1)">o</text><text transform="matrix(1.232 0 0 1 88.38 220.1)">r</text><text transform="matrix(1.232 0 0 1 91.97 220.1)">r</text><text transform="matrix(1.039 0 0 1 95.54 220.1)">e</text><text transform="matrix(0.983 0 0 1 101.28 220.1)">l</text><text transform="matrix(0.865 0 0 1 103.78 220.1)">a</text><text transform="matrix(1.285 0 0 1 109.22 220.1)">t</text><text transform="matrix(0.983 0 0 1 112.96 220.1)">i</text><text transform="matrix(1.022 0 0 1 115.35 220.1)">o</text><text transform="matrix(1.037 0 0 1 121 220.1)">n</text><text transform="matrix(1.263 0 0 1 129.52 220.1)">f</text><text transform="matrix(1.022 0 0 1 132.78 220.1)">o</text><text transform="matrix(1.232 0 0 1 138.31 220.1)">r</text><text transform="matrix(1.046 0 0 1 145.08 220.1)">b</text><text transform="matrix(1.232 0 0 1 150.72 220.1)">r</text><text transform="matrix(1.039 0 0 1 154.29 220.1)">e</text><text transform="matrix(0.865 0 0 1 160 220.1)">a</text><text transform="matrix(0.922 0 0 1 165.63 220.1)">s</text><text transform="matrix(1.285 0 0 1 170.18 220.1)">t</text></g>
<rect x="37.7" y="226.6" width="104.9" height="42.1" rx="1.5" fill="#ffffff" stroke="#e0e0e0" stroke-width="0.8"/>
<g font-size="7.8" fill="#1c1c1c" stroke="#1c1c1c" stroke-width="0.2"><text transform="matrix(1.033 0 0 1 62 235.1)">y</text><text transform="matrix(1.239 0 0 1 68.95 235.1)">=</text><text transform="matrix(1.014 0 0 1 77.48 235.1)">0</text><text transform="matrix(1.040 0 0 1 82.12 235.1)">.</text><text transform="matrix(1.047 0 0 1 84.54 235.1)">9</text><text transform="matrix(1.047 0 0 1 89.31 235.1)">9</text><text transform="matrix(1.067 0 0 1 94.11 235.1)">x</text><text transform="matrix(1.239 0 0 1 101.14 235.1)">+</text><text transform="matrix(1.049 0 0 1 109.59 235.1)">6</text><text transform="matrix(1.040 0 0 1 114.31 235.1)">.</text><text transform="matrix(0.973 0 0 1 116.92 235.1)">3</text><text transform="matrix(0.991 0 0 1 121.63 235.1)">7</text></g>
<g font-size="7.8" fill="#1c1c1c" stroke="#1c1c1c" stroke-width="0.2"><text transform="matrix(1.232 0 0 1 61.84 243.7)">r</text><text transform="matrix(1.239 0 0 1 67.59 243.7)">=</text><text transform="matrix(1.014 0 0 1 76.12 243.7)">0</text><text transform="matrix(1.040 0 0 1 80.77 243.7)">.</text><text transform="matrix(1.047 0 0 1 83.18 243.7)">9</text><text transform="matrix(1.047 0 0 1 87.95 243.7)">9</text><text transform="matrix(1.350 0 0 1 92.29 243.7)">;</text><text transform="matrix(1.046 0 0 1 97.7 243.7)">p</text><text transform="matrix(1.239 0 0 1 105.01 243.7)">&lt;</text><text transform="matrix(1.014 0 0 1 113.54 243.7)">0</text><text transform="matrix(1.040 0 0 1 118.19 243.7)">.</text><text transform="matrix(1.014 0 0 1 120.7 243.7)">0</text><text transform="matrix(1.014 0 0 1 125.47 243.7)">0</text><text transform="matrix(1.014 0 0 1 130.24 243.7)">0</text><text transform="matrix(0.968 0 0 1 135.08 243.7)">1</text></g>
<g font-size="7.8" fill="#1c1c1c" stroke="#1c1c1c" stroke-width="0.2"><text transform="matrix(0.920 0 0 1 61.95 252.3)">R</text><text transform="matrix(0.959 0 0 1 67.13 252.3)">M</text><text transform="matrix(0.857 0 0 1 73.67 252.3)">S</text><text transform="matrix(0.833 0 0 1 78.45 252.3)">E</text><text transform="matrix(1.239 0 0 1 85.69 252.3)">=</text><text transform="matrix(1.025 0 0 1 94.2 252.3)">8</text><text transform="matrix(1.014 0 0 1 98.99 252.3)">0</text><text transform="matrix(1.040 0 0 1 103.64 252.3)">.</text><text transform="matrix(1.014 0 0 1 106.15 252.3)">0</text><text transform="matrix(1.047 0 0 1 110.82 252.3)">9</text></g>
<line x1="39.9" y1="242.4" x2="55.2" y2="242.4" stroke="#333" stroke-width="0.9"/>
<g font-size="7.8" fill="#1c1c1c" stroke="#1c1c1c" stroke-width="0.2"><text transform="matrix(0.850 0 0 1 61.99 264)">P</text><text transform="matrix(1.039 0 0 1 66.13 264)">e</text><text transform="matrix(1.232 0 0 1 70.71 264)">r</text><text transform="matrix(1.263 0 0 1 73.79 264)">f</text><text transform="matrix(1.039 0 0 1 76.46 264)">e</text><text transform="matrix(0.965 0 0 1 81.1 264)">c</text><text transform="matrix(1.285 0 0 1 85.18 264)">t</text><text transform="matrix(0.965 0 0 1 90.55 264)">c</text><text transform="matrix(1.022 0 0 1 94.66 264)">o</text><text transform="matrix(1.232 0 0 1 99.21 264)">r</text><text transform="matrix(1.232 0 0 1 102.16 264)">r</text><text transform="matrix(1.039 0 0 1 105.11 264)">e</text><text transform="matrix(0.983 0 0 1 109.84 264)">l</text><text transform="matrix(0.865 0 0 1 111.9 264)">a</text><text transform="matrix(1.285 0 0 1 116.38 264)">t</text><text transform="matrix(0.983 0 0 1 119.47 264)">i</text><text transform="matrix(1.022 0 0 1 121.44 264)">o</text><text transform="matrix(1.037 0 0 1 126.09 264)">n</text></g>
<line x1="39.9" y1="261.4" x2="55.2" y2="261.4" stroke="#333" stroke-width="0.95" stroke-dasharray="2.8,1.2"/>
<rect x="123.7" y="324" width="89.4" height="36.1" rx="1.5" fill="#ffffff" stroke="#e0e0e0" stroke-width="0.8"/>
<circle cx="134.6" cy="330.4" r="1.9" fill="#ff0000"/>
<g font-size="7.8" fill="#1c1c1c" stroke="#1c1c1c" stroke-width="0.2"><text transform="matrix(0.956 0 0 1 148.22 333.1)">H</text><text transform="matrix(1.022 0 0 1 153.82 333.1)">o</text><text transform="matrix(0.922 0 0 1 158.53 333.1)">s</text><text transform="matrix(1.046 0 0 1 162.39 333.1)">p</text><text transform="matrix(0.983 0 0 1 167.19 333.1)">i</text><text transform="matrix(1.285 0 0 1 169.13 333.1)">t</text><text transform="matrix(0.865 0 0 1 172.18 333.1)">a</text><text transform="matrix(0.983 0 0 1 176.81 333.1)">l</text><text transform="matrix(0.968 0 0 1 181.33 333.1)">1</text><text transform="matrix(1.350 0 0 1 185.51 333.1)">,</text><text transform="matrix(0.968 0 0 1 190.87 333.1)">1</text><text transform="matrix(1.040 0 0 1 195.46 333.1)">.</text><text transform="matrix(0.957 0 0 1 198.06 333.1)">5</text><text transform="matrix(1.049 0 0 1 204.73 333.1)">T</text></g>
<circle cx="134.6" cy="341.6" r="1.9" fill="#0000ff"/>
<g font-size="7.8" fill="#1c1c1c" stroke="#1c1c1c" stroke-width="0.2"><text transform="matrix(0.956 0 0 1 148.22 344.3)">H</text><text transform="matrix(1.022 0 0 1 153.82 344.3)">o</text><text transform="matrix(0.922 0 0 1 158.53 344.3)">s</text><text transform="matrix(1.046 0 0 1 162.39 344.3)">p</text><text transform="matrix(0.983 0 0 1 167.19 344.3)">i</text><text transform="matrix(1.285 0 0 1 169.13 344.3)">t</text><text transform="matrix(0.865 0 0 1 172.18 344.3)">a</text><text transform="matrix(0.983 0 0 1 176.81 344.3)">l</text><text transform="matrix(0.968 0 0 1 181.33 344.3)">1</text><text transform="matrix(1.350 0 0 1 185.51 344.3)">,</text><text transform="matrix(0.973 0 0 1 190.91 344.3)">3</text><text transform="matrix(1.040 0 0 1 195.46 344.3)">.</text><text transform="matrix(1.014 0 0 1 197.97 344.3)">0</text><text transform="matrix(1.049 0 0 1 204.73 344.3)">T</text></g>
<circle cx="134.6" cy="353" r="1.9" fill="#ff00ff"/>
<g font-size="7.8" fill="#1c1c1c" stroke="#1c1c1c" stroke-width="0.2"><text transform="matrix(0.956 0 0 1 148.22 355.7)">H</text><text transform="matrix(1.022 0 0 1 153.82 355.7)">o</text><text transform="matrix(0.922 0 0 1 158.53 355.7)">s</text><text transform="matrix(1.046 0 0 1 162.39 355.7)">p</text><text transform="matrix(0.983 0 0 1 167.19 355.7)">i</text><text transform="matrix(1.285 0 0 1 169.13 355.7)">t</text><text transform="matrix(0.865 0 0 1 172.18 355.7)">a</text><text transform="matrix(0.983 0 0 1 176.81 355.7)">l</text><text transform="matrix(0.977 0 0 1 181.25 355.7)">2</text><text transform="matrix(1.350 0 0 1 185.51 355.7)">,</text><text transform="matrix(0.973 0 0 1 190.91 355.7)">3</text><text transform="matrix(1.040 0 0 1 195.46 355.7)">.</text><text transform="matrix(1.014 0 0 1 197.97 355.7)">0</text><text transform="matrix(1.049 0 0 1 204.73 355.7)">T</text></g>
<g><g font-size="7.8" fill="#1c1c1c" stroke="#1c1c1c" stroke-width="0.2"><text transform="matrix(0.971 0 0 1 89.45 382.5)">G</text><text transform="matrix(1.085 0 0 1 94.92 382.5)">T</text><text transform="matrix(1.077 0 0 1 99.17 382.5)">:</text></g><g font-size="7.8" font-style="italic" fill="#1c1c1c" stroke="#1c1c1c" stroke-width="0.2"><text transform="matrix(1.072 0 0 1 104.27 382.5)">b</text><text transform="matrix(1.216 0 0 1 109.15 382.5)">r</text><text transform="matrix(1.076 0 0 1 112.3 382.5)">e</text><text transform="matrix(1.008 0 0 1 117.14 382.5)">a</text><text transform="matrix(1.020 0 0 1 121.82 382.5)">s</text><text transform="matrix(1.337 0 0 1 125.82 382.5)">t</text></g><g font-size="5.46" font-style="italic" fill="#1c1c1c" stroke="#1c1c1c" stroke-width="0.2"><text transform="matrix(1.074 0 0 1 128.91 384)">v</text><text transform="matrix(1.053 0 0 1 132.12 384)">o</text><text transform="matrix(1.036 0 0 1 135.48 384)">l</text></g><g font-size="7.8" fill="#1c1c1c" stroke="#1c1c1c" stroke-width="0.2"><text transform="matrix(1.037 0 0 1 139.45 382.5)">[</text></g><g font-size="7.8" font-style="italic" fill="#1c1c1c" stroke="#1c1c1c" stroke-width="0.2"><text transform="matrix(1.070 0 0 1 142.47 382.5)">c</text><text transform="matrix(1.125 0 0 1 146.79 382.5)">m</text></g><g font-size="5.46" fill="#1c1c1c" stroke="#1c1c1c" stroke-width="0.2"><text transform="matrix(1.007 0 0 1 154.42 380.02)">3</text></g><g font-size="7.8" fill="#1c1c1c" stroke="#1c1c1c" stroke-width="0.2"><text transform="matrix(1.037 0 0 1 158.37 382.5)">]</text></g></g>
<g transform="rotate(-90 8 293.2)"><g font-size="7.8" fill="#1c1c1c" stroke="#1c1c1c" stroke-width="0.2"><text transform="matrix(0.859 0 0 1 -39.68 293.2)">P</text><text transform="matrix(1.244 0 0 1 -35.4 293.2)">r</text><text transform="matrix(1.049 0 0 1 -32.42 293.2)">e</text><text transform="matrix(1.056 0 0 1 -27.76 293.2)">d</text><text transform="matrix(0.993 0 0 1 -22.83 293.2)">i</text><text transform="matrix(0.974 0 0 1 -20.83 293.2)">c</text><text transform="matrix(1.298 0 0 1 -16.71 293.2)">t</text><text transform="matrix(1.049 0 0 1 -13.71 293.2)">e</text><text transform="matrix(1.056 0 0 1 -9.05 293.2)">d</text><text transform="matrix(1.051 0 0 1 -4.18 293.2)">:</text></g><g font-size="7.8" font-style="italic" fill="#1c1c1c" stroke="#1c1c1c" stroke-width="0.2"><text transform="matrix(1.046 0 0 1 0.8 293.2)">b</text><text transform="matrix(1.187 0 0 1 5.56 293.2)">r</text><text transform="matrix(1.050 0 0 1 8.64 293.2)">e</text><text transform="matrix(0.983 0 0 1 13.36 293.2)">a</text><text x="17.93" y="293.2">s</text><text transform="matrix(1.305 0 0 1 21.84 293.2)">t</text></g><g font-size="5.46" font-style="italic" fill="#1c1c1c" stroke="#1c1c1c" stroke-width="0.2"><text transform="matrix(1.048 0 0 1 24.85 294.7)">v</text><text transform="matrix(1.027 0 0 1 27.98 294.7)">o</text><text transform="matrix(1.011 0 0 1 31.26 294.7)">l</text></g><g font-size="7.8" fill="#1c1c1c" stroke="#1c1c1c" stroke-width="0.2"><text transform="matrix(1.012 0 0 1 35.14 293.2)">[</text></g><g font-size="7.8" font-style="italic" fill="#1c1c1c" stroke="#1c1c1c" stroke-width="0.2"><text transform="matrix(1.044 0 0 1 38.08 293.2)">c</text><text transform="matrix(1.098 0 0 1 42.29 293.2)">m</text></g><g font-size="5.46" fill="#1c1c1c" stroke="#1c1c1c" stroke-width="0.2"><text transform="matrix(0.983 0 0 1 49.75 290.72)">3</text></g><g font-size="7.8" fill="#1c1c1c" stroke="#1c1c1c" stroke-width="0.2"><text transform="matrix(1.012 0 0 1 53.6 293.2)">]</text></g></g>
<circle cx="264.7" cy="359.3" r="2.35" fill="#ff0000"/>
<circle cx="270.3" cy="352.5" r="2.35" fill="#ff0000"/>
<circle cx="282.5" cy="344.5" r="2.35" fill="#ff0000"/>
<circle cx="295.8" cy="331.8" r="2.35" fill="#ff0000"/>
<circle cx="310.3" cy="315.8" r="2.35" fill="#ff0000"/>
<circle cx="349.4" cy="286.2" r="2.35" fill="#ff0000"/>
<circle cx="351.5" cy="302.5" r="2.35" fill="#ff0000"/>
<circle cx="388.9" cy="279.4" r="2.35" fill="#ff0000"/>
<circle cx="424.4" cy="252.1" r="2.35" fill="#ff0000"/>
<circle cx="266.7" cy="358.5" r="2.35" fill="#ff00ff"/>
<circle cx="278.2" cy="350.8" r="2.35" fill="#ff00ff"/>
<circle cx="280.3" cy="352.9" r="2.35" fill="#ff00ff"/>
<circle cx="342.8" cy="304.5" r="2.35" fill="#ff00ff"/>
<circle cx="263.3" cy="361.6" r="2.35" fill="#0000ff"/>
<circle cx="268" cy="361.6" r="2.35" fill="#0000ff"/>
<circle cx="274.6" cy="357" r="2.35" fill="#0000ff"/>
<circle cx="278" cy="357.3" r="2.35" fill="#0000ff"/>
<circle cx="274.7" cy="360.9" r="2.35" fill="#0000ff"/>
<circle cx="283.9" cy="348" r="2.35" fill="#0000ff"/>
<circle cx="287.2" cy="352.8" r="2.35" fill="#0000ff"/>
<circle cx="293.8" cy="351.7" r="2.35" fill="#0000ff"/>
<circle cx="293.8" cy="356.2" r="2.35" fill="#0000ff"/>
<circle cx="297.5" cy="348.7" r="2.35" fill="#0000ff"/>
<circle cx="302.1" cy="339.6" r="2.35" fill="#0000ff"/>
<circle cx="305.9" cy="339.6" r="2.35" fill="#0000ff"/>
<circle cx="308.2" cy="346.2" r="2.35" fill="#0000ff"/>
<circle cx="298.6" cy="332.9" r="2.35" fill="#0000ff"/>
<circle cx="289.3" cy="325" r="2.35" fill="#0000ff"/>
<circle cx="291.1" cy="322.5" r="2.35" fill="#0000ff"/>
<circle cx="308.6" cy="323.7" r="2.35" fill="#0000ff"/>
<circle cx="313.1" cy="323" r="2.35" fill="#0000ff"/>
<circle cx="316" cy="333.4" r="2.35" fill="#0000ff"/>
<circle cx="321.5" cy="335.4" r="2.35" fill="#0000ff"/>
<circle cx="320" cy="313.6" r="2.35" fill="#0000ff"/>
<circle cx="335" cy="316.6" r="2.35" fill="#0000ff"/>
<circle cx="340" cy="298.5" r="2.35" fill="#0000ff"/>
<circle cx="355" cy="286.4" r="2.35" fill="#0000ff"/>
<circle cx="399" cy="254" r="2.35" fill="#0000ff"/>
<circle cx="399" cy="272.8" r="2.35" fill="#0000ff"/>
<circle cx="436.3" cy="236.4" r="2.35" fill="#0000ff"/>
<line x1="262.9" y1="363.6" x2="444.53" y2="222.75" stroke="#2a2a2a" stroke-width="1.15" stroke-dasharray="2.9,1.3"/>
<line x1="263.23" y1="363.9" x2="436.84" y2="237.35" stroke="#222" stroke-width="1.05"/>
<rect x="261.6" y="222.7" width="183.7" height="141" rx="0" fill="none" stroke="#a6a6a6" stroke-width="1"/>
<line x1="262.9" y1="363.7" x2="262.9" y2="365.5" stroke="#a6a6a6" stroke-width="0.9"/>
<g font-size="7.8" fill="#1c1c1c" stroke="#1c1c1c" stroke-width="0.2"><text transform="matrix(1.014 0 0 1 260.7 372.2)">0</text></g>
<line x1="296.35" y1="363.7" x2="296.35" y2="365.5" stroke="#a6a6a6" stroke-width="0.9"/>
<g font-size="7.8" fill="#1c1c1c" stroke="#1c1c1c" stroke-width="0.2"><text transform="matrix(0.968 0 0 1 291.83 372.2)">1</text><text transform="matrix(1.014 0 0 1 296.54 372.2)">0</text></g>
<line x1="329.8" y1="363.7" x2="329.8" y2="365.5" stroke="#a6a6a6" stroke-width="0.9"/>
<g font-size="7.8" fill="#1c1c1c" stroke="#1c1c1c" stroke-width="0.2"><text transform="matrix(0.977 0 0 1 325.19 372.2)">2</text><text transform="matrix(1.014 0 0 1 329.99 372.2)">0</text></g>
<line x1="363.25" y1="363.7" x2="363.25" y2="365.5" stroke="#a6a6a6" stroke-width="0.9"/>
<g font-size="7.8" fill="#1c1c1c" stroke="#1c1c1c" stroke-width="0.2"><text transform="matrix(0.973 0 0 1 358.76 372.2)">3</text><text transform="matrix(1.014 0 0 1 363.44 372.2)">0</text></g>
<line x1="396.7" y1="363.7" x2="396.7" y2="365.5" stroke="#a6a6a6" stroke-width="0.9"/>
<g font-size="7.8" fill="#1c1c1c" stroke="#1c1c1c" stroke-width="0.2"><text transform="matrix(1.014 0 0 1 392.11 372.2)">4</text><text transform="matrix(1.014 0 0 1 396.89 372.2)">0</text></g>
<line x1="430.15" y1="363.7" x2="430.15" y2="365.5" stroke="#a6a6a6" stroke-width="0.9"/>
<g font-size="7.8" fill="#1c1c1c" stroke="#1c1c1c" stroke-width="0.2"><text transform="matrix(0.957 0 0 1 425.66 372.2)">5</text><text transform="matrix(1.014 0 0 1 430.34 372.2)">0</text></g>
<line x1="259.8" y1="363.6" x2="261.6" y2="363.6" stroke="#a6a6a6" stroke-width="0.9"/>
<g font-size="7.8" fill="#1c1c1c" stroke="#1c1c1c" stroke-width="0.2"><text transform="matrix(1.014 0 0 1 254.21 366.33)">0</text></g>
<line x1="259.8" y1="337.66" x2="261.6" y2="337.66" stroke="#a6a6a6" stroke-width="0.9"/>
<g font-size="7.8" fill="#1c1c1c" stroke="#1c1c1c" stroke-width="0.2"><text transform="matrix(0.968 0 0 1 249.51 340.39)">1</text><text transform="matrix(1.014 0 0 1 254.21 340.39)">0</text></g>
<line x1="259.8" y1="311.72" x2="261.6" y2="311.72" stroke="#a6a6a6" stroke-width="0.9"/>
<g font-size="7.8" fill="#1c1c1c" stroke="#1c1c1c" stroke-width="0.2"><text transform="matrix(0.977 0 0 1 249.42 314.45)">2</text><text transform="matrix(1.014 0 0 1 254.21 314.45)">0</text></g>
<line x1="259.8" y1="285.78" x2="261.6" y2="285.78" stroke="#a6a6a6" stroke-width="0.9"/>
<g font-size="7.8" fill="#1c1c1c" stroke="#1c1c1c" stroke-width="0.2"><text transform="matrix(0.973 0 0 1 249.54 288.51)">3</text><text transform="matrix(1.014 0 0 1 254.21 288.51)">0</text></g>
<line x1="259.8" y1="259.84" x2="261.6" y2="259.84" stroke="#a6a6a6" stroke-width="0.9"/>
<g font-size="7.8" fill="#1c1c1c" stroke="#1c1c1c" stroke-width="0.2"><text transform="matrix(1.014 0 0 1 249.44 262.57)">4</text><text transform="matrix(1.014 0 0 1 254.21 262.57)">0</text></g>
<line x1="259.8" y1="233.9" x2="261.6" y2="233.9" stroke="#a6a6a6" stroke-width="0.9"/>
<g font-size="7.8" fill="#1c1c1c" stroke="#1c1c1c" stroke-width="0.2"><text transform="matrix(0.957 0 0 1 249.54 236.63)">5</text><text transform="matrix(1.014 0 0 1 254.21 236.63)">0</text></g>
<g font-size="9.46" fill="#1c1c1c" stroke="#1c1c1c" stroke-width="0.2"><text transform="matrix(0.893 0 0 1 310.55 220.1)">C</text><text transform="matrix(1.022 0 0 1 316.92 220.1)">o</text><text transform="matrix(1.232 0 0 1 322.45 220.1)">r</text><text transform="matrix(1.232 0 0 1 326.03 220.1)">r</text><text transform="matrix(1.039 0 0 1 329.6 220.1)">e</text><text transform="matrix(0.983 0 0 1 335.35 220.1)">l</text><text transform="matrix(0.865 0 0 1 337.84 220.1)">a</text><text transform="matrix(1.285 0 0 1 343.28 220.1)">t</text><text transform="matrix(0.983 0 0 1 347.02 220.1)">i</text><text transform="matrix(1.022 0 0 1 349.41 220.1)">o</text><text transform="matrix(1.037 0 0 1 355.06 220.1)">n</text><text transform="matrix(1.263 0 0 1 363.58 220.1)">f</text><text transform="matrix(1.022 0 0 1 366.84 220.1)">o</text><text transform="matrix(1.232 0 0 1 372.37 220.1)">r</text><text transform="matrix(0.934 0 0 1 379.12 220.1)">B</text><text transform="matrix(0.850 0 0 1 385.42 220.1)">P</text><text transform="matrix(0.833 0 0 1 390.92 220.1)">E</text></g>
<rect x="265.2" y="226.6" width="106.1" height="42.1" rx="1.5" fill="#ffffff" stroke="#e0e0e0" stroke-width="0.8"/>
<g font-size="7.8" fill="#1c1c1c" stroke="#1c1c1c" stroke-width="0.2"><text transform="matrix(1.033 0 0 1 289.9 235.1)">y</text><text transform="matrix(1.239 0 0 1 296.85 235.1)">=</text><text transform="matrix(1.014 0 0 1 305.38 235.1)">0</text><text transform="matrix(1.040 0 0 1 310.02 235.1)">.</text><text transform="matrix(1.047 0 0 1 312.44 235.1)">9</text><text transform="matrix(1.014 0 0 1 317.3 235.1)">4</text><text transform="matrix(1.067 0 0 1 322.01 235.1)">x</text><text transform="matrix(1.037 0 0 1 328.72 235.1)">-</text><text transform="matrix(1.014 0 0 1 333.99 235.1)">0</text><text transform="matrix(1.040 0 0 1 338.64 235.1)">.</text><text transform="matrix(0.977 0 0 1 341.12 235.1)">2</text><text transform="matrix(0.968 0 0 1 345.98 235.1)">1</text></g>
<g font-size="7.8" fill="#1c1c1c" stroke="#1c1c1c" stroke-width="0.2"><text transform="matrix(1.232 0 0 1 289.74 243.7)">r</text><text transform="matrix(1.239 0 0 1 295.49 243.7)">=</text><text transform="matrix(1.014 0 0 1 304.02 243.7)">0</text><text transform="matrix(1.040 0 0 1 308.67 243.7)">.</text><text transform="matrix(1.047 0 0 1 311.08 243.7)">9</text><text transform="matrix(0.991 0 0 1 315.98 243.7)">7</text><text transform="matrix(1.350 0 0 1 320.19 243.7)">;</text><text transform="matrix(1.046 0 0 1 325.6 243.7)">p</text><text transform="matrix(1.239 0 0 1 332.91 243.7)">&lt;</text><text transform="matrix(1.014 0 0 1 341.44 243.7)">0</text><text transform="matrix(1.040 0 0 1 346.09 243.7)">.</text><text transform="matrix(1.014 0 0 1 348.6 243.7)">0</text><text transform="matrix(1.014 0 0 1 353.37 243.7)">0</text><text transform="matrix(1.014 0 0 1 358.14 243.7)">0</text><text transform="matrix(0.968 0 0 1 362.98 243.7)">1</text></g>
<g font-size="7.8" fill="#1c1c1c" stroke="#1c1c1c" stroke-width="0.2"><text transform="matrix(0.920 0 0 1 289.85 252.3)">R</text><text transform="matrix(0.959 0 0 1 295.03 252.3)">M</text><text transform="matrix(0.857 0 0 1 301.57 252.3)">S</text><text transform="matrix(0.833 0 0 1 306.35 252.3)">E</text><text transform="matrix(1.239 0 0 1 313.59 252.3)">=</text><text transform="matrix(0.973 0 0 1 322.22 252.3)">3</text><text transform="matrix(1.040 0 0 1 326.77 252.3)">.</text><text transform="matrix(0.973 0 0 1 329.37 252.3)">3</text><text transform="matrix(0.968 0 0 1 334.11 252.3)">1</text></g>
<line x1="267.7" y1="242.4" x2="283.4" y2="242.4" stroke="#333" stroke-width="0.9"/>
<g font-size="7.8" fill="#1c1c1c" stroke="#1c1c1c" stroke-width="0.2"><text transform="matrix(0.850 0 0 1 289.89 264)">P</text><text transform="matrix(1.039 0 0 1 294.03 264)">e</text><text transform="matrix(1.232 0 0 1 298.61 264)">r</text><text transform="matrix(1.263 0 0 1 301.69 264)">f</text><text transform="matrix(1.039 0 0 1 304.36 264)">e</text><text transform="matrix(0.965 0 0 1 309 264)">c</text><text transform="matrix(1.285 0 0 1 313.08 264)">t</text><text transform="matrix(0.965 0 0 1 318.45 264)">c</text><text transform="matrix(1.022 0 0 1 322.56 264)">o</text><text transform="matrix(1.232 0 0 1 327.11 264)">r</text><text transform="matrix(1.232 0 0 1 330.06 264)">r</text><text transform="matrix(1.039 0 0 1 333.01 264)">e</text><text transform="matrix(0.983 0 0 1 337.74 264)">l</text><text transform="matrix(0.865 0 0 1 339.8 264)">a</text><text transform="matrix(1.285 0 0 1 344.28 264)">t</text><text transform="matrix(0.983 0 0 1 347.37 264)">i</text><text transform="matrix(1.022 0 0 1 349.34 264)">o</text><text transform="matrix(1.037 0 0 1 353.99 264)">n</text></g>
<line x1="267.7" y1="261.4" x2="283.4" y2="261.4" stroke="#333" stroke-width="0.95" stroke-dasharray="2.8,1.2"/>
<g><g font-size="7.8" fill="#1c1c1c" stroke="#1c1c1c" stroke-width="0.2"><text transform="matrix(0.971 0 0 1 336.26 381.3)">G</text><text transform="matrix(1.085 0 0 1 341.73 381.3)">T</text><text transform="matrix(1.077 0 0 1 345.98 381.3)">:</text></g><g font-size="7.8" font-style="italic" fill="#1c1c1c" stroke="#1c1c1c" stroke-width="0.2"><text transform="matrix(0.989 0 0 1 350.89 381.3)">B</text><text transform="matrix(0.907 0 0 1 356.23 381.3)">P</text><text transform="matrix(0.930 0 0 1 360.91 381.3)">E</text></g><g font-size="5.15" fill="#1c1c1c" stroke="#1c1c1c" stroke-width="0.2"><text transform="matrix(1.022 0 0 1 365.92 382.57)">%</text></g></g>
<g transform="rotate(-90 245.5 293.2)"><g font-size="7.8" fill="#1c1c1c" stroke="#1c1c1c" stroke-width="0.2"><text transform="matrix(0.859 0 0 1 215.78 293.2)">P</text><text transform="matrix(1.244 0 0 1 220.07 293.2)">r</text><text transform="matrix(1.049 0 0 1 223.04 293.2)">e</text><text transform="matrix(1.056 0 0 1 227.7 293.2)">d</text><text transform="matrix(0.993 0 0 1 232.64 293.2)">i</text><text transform="matrix(0.974 0 0 1 234.64 293.2)">c</text><text transform="matrix(1.298 0 0 1 238.76 293.2)">t</text><text transform="matrix(1.049 0 0 1 241.75 293.2)">e</text><text transform="matrix(1.056 0 0 1 246.41 293.2)">d</text><text transform="matrix(1.051 0 0 1 251.29 293.2)">:</text></g><g font-size="7.8" font-style="italic" fill="#1c1c1c" stroke="#1c1c1c" stroke-width="0.2"><text transform="matrix(0.965 0 0 1 256.08 293.2)">B</text><text transform="matrix(0.885 0 0 1 261.3 293.2)">P</text><text transform="matrix(0.907 0 0 1 265.86 293.2)">E</text></g><g font-size="5.15" fill="#1c1c1c" stroke="#1c1c1c" stroke-width="0.2"><text x="270.75" y="294.47">%</text></g></g>
<line x1="496.5" y1="248.41" x2="684" y2="248.41" stroke="#8a8a8a" stroke-width="1" stroke-dasharray="1.1,0.9"/>
<line x1="496.5" y1="322.31" x2="684" y2="322.31" stroke="#8a8a8a" stroke-width="1" stroke-dasharray="1.1,0.9"/>
<line x1="496.5" y1="285.24" x2="684" y2="285.24" stroke="#bababa" stroke-width="1.4"/>
<circle cx="516.2" cy="269.1" r="2.35" fill="#ff0000"/>
<circle cx="527.5" cy="272.1" r="2.35" fill="#ff0000"/>
<circle cx="542.5" cy="266.9" r="2.35" fill="#ff0000"/>
<circle cx="509" cy="275.6" r="2.35" fill="#ff0000"/>
<circle cx="507.3" cy="280.3" r="2.35" fill="#ff0000"/>
<circle cx="560.7" cy="255.1" r="2.35" fill="#ff0000"/>
<circle cx="599.3" cy="256.8" r="2.35" fill="#ff0000"/>
<circle cx="589.9" cy="297.4" r="2.35" fill="#ff0000"/>
<circle cx="623.8" cy="310.3" r="2.35" fill="#ff0000"/>
<circle cx="659.5" cy="311.2" r="2.35" fill="#ff0000"/>
<circle cx="510.8" cy="277.4" r="2.35" fill="#ff00ff"/>
<circle cx="513.8" cy="281.8" r="2.35" fill="#ff00ff"/>
<circle cx="521.1" cy="279.2" r="2.35" fill="#ff00ff"/>
<circle cx="520.3" cy="284.9" r="2.35" fill="#ff00ff"/>
<circle cx="520.9" cy="287.1" r="2.35" fill="#ff00ff"/>
<circle cx="583.7" cy="286.7" r="2.35" fill="#ff00ff"/>
<circle cx="505.6" cy="276.5" r="2.35" fill="#0000ff"/>
<circle cx="504.8" cy="279.3" r="2.35" fill="#0000ff"/>
<circle cx="507.2" cy="278.8" r="2.35" fill="#0000ff"/>
<circle cx="509.4" cy="284.7" r="2.35" fill="#0000ff"/>
<circle cx="514.5" cy="287.8" r="2.35" fill="#0000ff"/>
<circle cx="516.4" cy="290.5" r="2.35" fill="#0000ff"/>
<circle cx="512.9" cy="295.7" r="2.35" fill="#0000ff"/>
<circle cx="517.1" cy="294.7" r="2.35" fill="#0000ff"/>
<circle cx="524.6" cy="299.6" r="2.35" fill="#0000ff"/>
<circle cx="525.9" cy="282.3" r="2.35" fill="#0000ff"/>
<circle cx="528.5" cy="309.2" r="2.35" fill="#0000ff"/>
<circle cx="532.3" cy="309" r="2.35" fill="#0000ff"/>
<circle cx="525.8" cy="319.1" r="2.35" fill="#0000ff"/>
<circle cx="540.5" cy="295" r="2.35" fill="#0000ff"/>
<circle cx="542.5" cy="301.8" r="2.35" fill="#0000ff"/>
<circle cx="539.9" cy="321.1" r="2.35" fill="#0000ff"/>
<circle cx="551.3" cy="305.4" r="2.35" fill="#0000ff"/>
<circle cx="553.4" cy="320.5" r="2.35" fill="#0000ff"/>
<circle cx="543.2" cy="272.6" r="2.35" fill="#0000ff"/>
<circle cx="543.5" cy="240" r="2.35" fill="#0000ff"/>
<circle cx="546.2" cy="237.5" r="2.35" fill="#0000ff"/>
<circle cx="554.5" cy="270.3" r="2.35" fill="#0000ff"/>
<circle cx="557.2" cy="276.9" r="2.35" fill="#0000ff"/>
<circle cx="566.6" cy="267.8" r="2.35" fill="#0000ff"/>
<circle cx="572.2" cy="301.3" r="2.35" fill="#0000ff"/>
<circle cx="586.4" cy="268.2" r="2.35" fill="#0000ff"/>
<circle cx="602" cy="267.1" r="2.35" fill="#0000ff"/>
<circle cx="633.1" cy="312.8" r="2.35" fill="#0000ff"/>
<circle cx="645.3" cy="270.3" r="2.35" fill="#0000ff"/>
<circle cx="675.6" cy="295.6" r="2.35" fill="#0000ff"/>
<rect x="496.5" y="229.4" width="187.5" height="111.5" rx="0" fill="none" stroke="#a6a6a6" stroke-width="1"/>
<line x1="504.5" y1="340.9" x2="504.5" y2="342.7" stroke="#a6a6a6" stroke-width="0.9"/>
<g font-size="8.53" fill="#1c1c1c" stroke="#1c1c1c" stroke-width="0.2"><text transform="matrix(0.976 0 0 1 502.18 350.1)">0</text></g>
<line x1="538.4" y1="340.9" x2="538.4" y2="342.7" stroke="#a6a6a6" stroke-width="0.9"/>
<g font-size="8.53" fill="#1c1c1c" stroke="#1c1c1c" stroke-width="0.2"><text transform="matrix(0.932 0 0 1 533.64 350.1)">1</text><text transform="matrix(0.976 0 0 1 538.6 350.1)">0</text></g>
<line x1="572.3" y1="340.9" x2="572.3" y2="342.7" stroke="#a6a6a6" stroke-width="0.9"/>
<g font-size="8.53" fill="#1c1c1c" stroke="#1c1c1c" stroke-width="0.2"><text transform="matrix(0.941 0 0 1 567.45 350.1)">2</text><text transform="matrix(0.976 0 0 1 572.5 350.1)">0</text></g>
<line x1="606.2" y1="340.9" x2="606.2" y2="342.7" stroke="#a6a6a6" stroke-width="0.9"/>
<g font-size="8.53" fill="#1c1c1c" stroke="#1c1c1c" stroke-width="0.2"><text transform="matrix(0.937 0 0 1 601.47 350.1)">3</text><text transform="matrix(0.976 0 0 1 606.4 350.1)">0</text></g>
<line x1="640.1" y1="340.9" x2="640.1" y2="342.7" stroke="#a6a6a6" stroke-width="0.9"/>
<g font-size="8.53" fill="#1c1c1c" stroke="#1c1c1c" stroke-width="0.2"><text transform="matrix(0.976 0 0 1 635.27 350.1)">4</text><text transform="matrix(0.976 0 0 1 640.3 350.1)">0</text></g>
<line x1="674" y1="340.9" x2="674" y2="342.7" stroke="#a6a6a6" stroke-width="0.9"/>
<g font-size="8.53" fill="#1c1c1c" stroke="#1c1c1c" stroke-width="0.2"><text transform="matrix(0.921 0 0 1 669.27 350.1)">5</text><text transform="matrix(0.976 0 0 1 674.2 350.1)">0</text></g>
<line x1="494.7" y1="339" x2="496.5" y2="339" stroke="#a6a6a6" stroke-width="0.9"/>
<g font-size="8.53" fill="#1c1c1c" stroke="#1c1c1c" stroke-width="0.2"><text transform="matrix(1.193 0 0 1 469.73 341.88)">−</text><text transform="matrix(0.932 0 0 1 476.27 341.88)">1</text><text transform="matrix(0.976 0 0 1 481.23 341.88)">0</text><text x="486.13" y="341.88">.</text><text transform="matrix(0.976 0 0 1 488.77 341.88)">0</text></g>
<line x1="494.7" y1="324.1" x2="496.5" y2="324.1" stroke="#a6a6a6" stroke-width="0.9"/>
<g font-size="8.53" fill="#1c1c1c" stroke="#1c1c1c" stroke-width="0.2"><text transform="matrix(1.193 0 0 1 474.75 326.98)">−</text><text transform="matrix(0.955 0 0 1 481.27 326.98)">7</text><text x="486.13" y="326.98">.</text><text transform="matrix(0.921 0 0 1 488.87 326.98)">5</text></g>
<line x1="494.7" y1="309.2" x2="496.5" y2="309.2" stroke="#a6a6a6" stroke-width="0.9"/>
<g font-size="8.53" fill="#1c1c1c" stroke="#1c1c1c" stroke-width="0.2"><text transform="matrix(1.193 0 0 1 474.75 312.08)">−</text><text transform="matrix(0.921 0 0 1 481.33 312.08)">5</text><text x="486.13" y="312.08">.</text><text transform="matrix(0.976 0 0 1 488.77 312.08)">0</text></g>
<line x1="494.7" y1="294.3" x2="496.5" y2="294.3" stroke="#a6a6a6" stroke-width="0.9"/>
<g font-size="8.53" fill="#1c1c1c" stroke="#1c1c1c" stroke-width="0.2"><text transform="matrix(1.193 0 0 1 474.75 297.18)">−</text><text transform="matrix(0.941 0 0 1 481.21 297.18)">2</text><text x="486.13" y="297.18">.</text><text transform="matrix(0.921 0 0 1 488.87 297.18)">5</text></g>
<line x1="494.7" y1="279.4" x2="496.5" y2="279.4" stroke="#a6a6a6" stroke-width="0.9"/>
<g font-size="8.53" fill="#1c1c1c" stroke="#1c1c1c" stroke-width="0.2"><text transform="matrix(0.976 0 0 1 481.23 282.28)">0</text><text x="486.13" y="282.28">.</text><text transform="matrix(0.976 0 0 1 488.77 282.28)">0</text></g>
<line x1="494.7" y1="264.5" x2="496.5" y2="264.5" stroke="#a6a6a6" stroke-width="0.9"/>
<g font-size="8.53" fill="#1c1c1c" stroke="#1c1c1c" stroke-width="0.2"><text transform="matrix(0.941 0 0 1 481.21 267.38)">2</text><text x="486.13" y="267.38">.</text><text transform="matrix(0.921 0 0 1 488.87 267.38)">5</text></g>
<line x1="494.7" y1="249.6" x2="496.5" y2="249.6" stroke="#a6a6a6" stroke-width="0.9"/>
<g font-size="8.53" fill="#1c1c1c" stroke="#1c1c1c" stroke-width="0.2"><text transform="matrix(0.921 0 0 1 481.33 252.48)">5</text><text x="486.13" y="252.48">.</text><text transform="matrix(0.976 0 0 1 488.77 252.48)">0</text></g>
<line x1="494.7" y1="234.7" x2="496.5" y2="234.7" stroke="#a6a6a6" stroke-width="0.9"/>
<g font-size="8.53" fill="#1c1c1c" stroke="#1c1c1c" stroke-width="0.2"><text transform="matrix(0.955 0 0 1 481.27 237.58)">7</text><text x="486.13" y="237.58">.</text><text transform="matrix(0.921 0 0 1 488.87 237.58)">5</text></g>
<g font-size="8.53" fill="#1c1c1c" stroke="#1c1c1c" stroke-width="0.2"><text transform="matrix(1.193 0 0 1 626.69 238.5)">+</text><text transform="matrix(0.932 0 0 1 633.23 238.5)">1</text><text x="638.06" y="238.5">.</text><text transform="matrix(1.008 0 0 1 640.6 238.5)">9</text><text transform="matrix(1.010 0 0 1 645.64 238.5)">6</text><text transform="matrix(0.825 0 0 1 653.27 238.5)">S</text><text transform="matrix(0.958 0 0 1 658.19 238.5)">D</text><text x="664.31" y="238.5">:</text><text transform="matrix(0.921 0 0 1 669.63 238.5)">5</text><text x="674.43" y="238.5">.</text><text transform="matrix(0.941 0 0 1 677.05 238.5)">2</text></g>
<g font-size="8.53" fill="#1c1c1c" stroke="#1c1c1c" stroke-width="0.2"><text transform="matrix(1.055 0 0 1 641.95 282.7)">m</text><text x="649.6" y="282.7">e</text><text transform="matrix(0.833 0 0 1 654.56 282.7)">a</text><text x="659.38" y="282.7">n</text><text transform="matrix(1.006 0 0 1 666.82 282.7)">d</text><text transform="matrix(0.947 0 0 1 671.97 282.7)">i</text><text transform="matrix(1.216 0 0 1 673.99 282.7)">f</text><text transform="matrix(1.216 0 0 1 676.77 282.7)">f</text><text x="679.38" y="282.7">:</text></g>
<g font-size="8.53" fill="#1c1c1c" stroke="#1c1c1c" stroke-width="0.2"><text x="661.47" y="292.5">-</text><text transform="matrix(0.976 0 0 1 664.51 292.5)">0</text><text x="669.4" y="292.5">.</text><text transform="matrix(1.008 0 0 1 671.94 292.5)">9</text><text transform="matrix(0.987 0 0 1 677.04 292.5)">8</text></g>
<g font-size="8.53" fill="#1c1c1c" stroke="#1c1c1c" stroke-width="0.2"><text x="627.27" y="331.1">-</text><text transform="matrix(0.932 0 0 1 630.38 331.1)">1</text><text x="635.2" y="331.1">.</text><text transform="matrix(1.008 0 0 1 637.75 331.1)">9</text><text transform="matrix(1.010 0 0 1 642.79 331.1)">6</text><text transform="matrix(0.825 0 0 1 650.42 331.1)">S</text><text transform="matrix(0.958 0 0 1 655.33 331.1)">D</text><text x="661.46" y="331.1">:</text><text x="666.49" y="331.1">-</text><text transform="matrix(0.955 0 0 1 669.57 331.1)">7</text><text x="674.43" y="331.1">.</text><text transform="matrix(0.941 0 0 1 677.05 331.1)">2</text></g>
<g><g font-size="8.53" fill="#1c1c1c" stroke="#1c1c1c" stroke-width="0.2"><text transform="matrix(0.923 0 0 1 563.23 360.6)">M</text><text x="569.99" y="360.6">e</text><text transform="matrix(0.833 0 0 1 574.95 360.6)">a</text><text x="579.77" y="360.6">n</text><text transform="matrix(0.984 0 0 1 587.22 360.6)">o</text><text transform="matrix(1.216 0 0 1 592.01 360.6)">f</text></g><g font-size="8.53" font-style="italic" fill="#1c1c1c" stroke="#1c1c1c" stroke-width="0.2"><text transform="matrix(0.920 0 0 1 597.24 360.6)">B</text><text transform="matrix(0.844 0 0 1 602.68 360.6)">P</text><text transform="matrix(0.865 0 0 1 607.43 360.6)">E</text></g><g font-size="5.63" fill="#1c1c1c" stroke="#1c1c1c" stroke-width="0.2"><text transform="matrix(0.951 0 0 1 612.54 361.94)">%</text></g></g>
<g transform="rotate(-90 464.7 285.45)"><g font-size="8.53" fill="#1c1c1c" stroke="#1c1c1c" stroke-width="0.2"><text transform="matrix(1.038 0 0 1 418.52 285.45)">Δ</text></g><g font-size="8.53" font-style="italic" fill="#1c1c1c" stroke="#1c1c1c" stroke-width="0.2"><text transform="matrix(0.844 0 0 1 424.23 285.45)">F</text><text transform="matrix(0.937 0 0 1 428.84 285.45)">G</text><text transform="matrix(1.030 0 0 1 434.67 285.45)">T</text></g><g font-size="5.63" fill="#1c1c1c" stroke="#1c1c1c" stroke-width="0.2"><text transform="matrix(0.970 0 0 1 440.14 286.79)">%</text></g><g font-size="8.53" fill="#1c1c1c" stroke="#1c1c1c" stroke-width="0.2"><text transform="matrix(0.800 0 0 1 447.92 285.45)">(</text><text transform="matrix(0.835 0 0 1 451 285.45)">P</text><text transform="matrix(1.210 0 0 1 455.56 285.45)">r</text><text transform="matrix(1.020 0 0 1 458.72 285.45)">e</text><text transform="matrix(1.026 0 0 1 463.68 285.45)">d</text><text transform="matrix(0.965 0 0 1 468.93 285.45)">i</text><text transform="matrix(0.948 0 0 1 471.06 285.45)">c</text><text transform="matrix(1.262 0 0 1 475.44 285.45)">t</text><text transform="matrix(1.020 0 0 1 478.63 285.45)">e</text><text transform="matrix(1.026 0 0 1 483.58 285.45)">d</text><text transform="matrix(1.018 0 0 1 491.19 285.45)">-</text><text transform="matrix(0.921 0 0 1 496.71 285.45)">G</text><text transform="matrix(1.030 0 0 1 502.39 285.45)">T</text><text transform="matrix(0.800 0 0 1 508.14 285.45)">)</text></g></g>
</svg>
</body></html>
